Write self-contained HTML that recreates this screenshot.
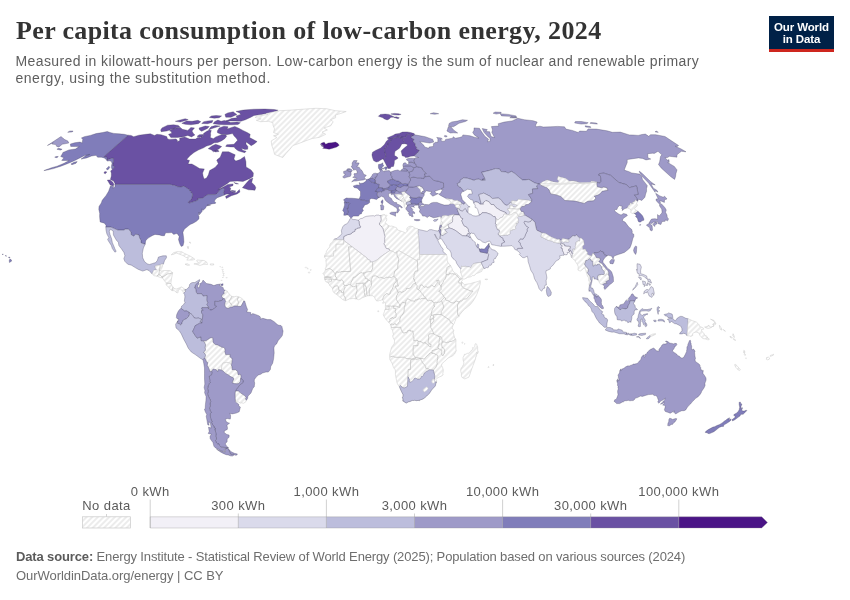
<!DOCTYPE html>
<html lang="en"><head><meta charset="utf-8"><title>Per capita consumption of low-carbon energy, 2024</title>
<style>
html,body{margin:0;padding:0;background:#fff}
body{width:850px;height:600px;overflow:hidden;position:relative;font-family:"Liberation Sans",sans-serif}
#title{position:absolute;left:16px;top:15.2px;margin:0;font-family:"Liberation Serif",serif;font-weight:700;font-size:26px;line-height:32px;color:#333;white-space:nowrap;letter-spacing:0.36px}
#sub{position:absolute;left:15.5px;top:52.7px;margin:0;font-size:14px;line-height:17.5px;color:#5e5e5e;white-space:nowrap;letter-spacing:0.385px}
#logo{position:absolute;left:769px;top:16px;width:65px;height:33px;background:#002147;border-bottom:3px solid #ce261e;color:#fff;font-weight:700;font-size:11.5px;line-height:12px;text-align:center;letter-spacing:-0.12px}
#logo span{display:block;padding-top:5.2px}
#foot{position:absolute;left:16px;top:546.5px;font-size:13px;line-height:19px;color:#6e6e6e;white-space:nowrap;letter-spacing:-0.14px}
#foot i{font-style:normal;letter-spacing:-0.05px}
#foot b{color:#5b5b5b}
svg{position:absolute;left:0;top:0}
.c{stroke:#3c3858;stroke-opacity:.6;stroke-width:.5;stroke-linejoin:round}
.n{fill:url(#h);stroke:#cdcdcd;stroke-width:.55;stroke-linejoin:round}
.b{fill:none;stroke:#b6b6b6;stroke-width:.6;stroke-linejoin:round}
.lg text{font-family:"Liberation Sans",sans-serif;font-size:13px;fill:#5b5b5b;text-anchor:middle;letter-spacing:0.4px}
</style></head><body>
<h1 id="title">Per capita consumption of low-carbon energy, 2024</h1>
<p id="sub">Measured in kilowatt-hours per person. Low-carbon energy is the sum of nuclear and renewable primary<br><span style="letter-spacing:.52px">energy, using the substitution method.</span></p>
<div id="logo"><span>Our World<br>in Data</span></div>
<svg width="850" height="600" viewBox="0 0 850 600">
<defs>
<pattern id="h" patternUnits="userSpaceOnUse" width="4" height="4" patternTransform="rotate(-45 2 2)"><rect width="4" height="4" fill="#fff"/><path d="M-1,2l6,0" stroke="#e4e4e4" stroke-width="1.35"/></pattern>
</defs>
<g id="map">
<path class="c" fill="#6a51a3" d="M128.1,135.2L131.1,135.4L133.7,136.7L138.9,135.2L145.8,134.3L150.4,133.8L154.5,135.4L156.9,134.3L161.0,134.7L166.7,136.5L167.6,138.9L169.7,139.4L176.1,138.9L177.4,140.3L177.2,141.8L179.8,140.5L179.6,138.2L184.7,136.9L189.5,139.1L195.5,139.1L197.8,137.4L200.3,138.0L203.2,135.4L203.5,133.6L206.3,131.5L209.3,130.0L211.3,130.4L210.5,133.2L210.7,134.9L210.3,137.6L213.3,138.7L215.8,136.9L219.5,135.4L221.7,134.7L225.7,134.9L226.7,136.3L224.7,138.7L221.4,140.9L217.8,142.5L214.1,142.7L210.9,144.8L206.6,146.0L203.6,147.8L198.3,150.1L194.0,152.5L189.7,156.0L186.6,159.6L189.5,160.4L188.1,164.0L191.9,164.0L195.4,165.9L199.6,168.6L204.3,168.9L202.6,173.1L203.1,176.1L204.1,178.9L206.5,178.1L208.4,174.8L209.6,170.6L215.0,167.4L218.3,163.7L216.7,160.1L220.2,157.2L222.4,151.8L228.7,151.8L232.3,153.4L235.2,154.8L233.9,159.1L235.8,161.1L240.2,159.6L244.5,156.5L245.9,161.6L246.1,166.9L251.0,169.9L253.4,173.1L253.1,176.6L250.0,178.4L243.0,181.4L237.1,181.1L230.0,181.4L227.1,183.7L221.9,187.0L217.8,189.8L221.5,188.0L227.9,184.4L233.1,183.9L232.9,185.7L229.0,187.0L230.7,188.0L230.2,190.8L232.5,192.1L236.3,192.8L239.4,189.5L239.9,192.1L237.1,193.9L231.4,195.7L226.3,198.5L225.5,196.4L229.8,193.9L226.7,194.1L224.3,195.1L223.9,193.9L223.4,192.8L224.6,189.2L223.8,188.6L222.0,188.4L219.7,190.3L218.7,191.5L216.6,193.9L215.1,194.6L207.9,194.6L204.4,196.7L202.8,198.2L197.7,198.5L198.0,199.0L197.7,200.3L189.3,203.1L188.1,202.4L188.3,201.8L190.0,200.8L190.6,199.8L191.8,198.2L192.7,193.9L190.9,192.6L191.4,191.8L189.6,190.8L189.4,189.8L183.9,186.2L181.1,187.0L177.4,186.7L174.9,185.4L171.8,185.2L171.1,184.4L114.9,184.4L115.0,183.7L113.6,181.1L110.4,179.4L111.3,176.1L111.3,173.1L110.6,171.1L112.3,169.4L114.6,166.9L112.5,165.5L113.5,161.1L113.3,158.2L111.2,158.4L107.0,159.9L106.8,157.2L103.9,156.5ZM113.3,185.9L110.2,184.9L107.3,180.1L110.1,179.9L112.6,181.9L113.9,184.2ZM105.3,173.8L103.9,173.1L104.8,171.6L106.9,171.9ZM242.4,187.7L248.5,189.8L252.5,190.0L254.9,190.3L255.8,187.7L254.8,185.4L251.7,182.4L252.8,178.1L249.6,179.4L246.4,183.1ZM231.4,190.3L235.9,191.0L234.5,192.1L231.7,191.3ZM233.8,182.4L238.5,183.9L236.1,183.9ZM244.8,152.7L241.3,151.8L238.2,150.8L235.7,149.0L234.1,147.1L230.7,146.9L225.7,146.4L226.7,144.8L233.9,144.3L237.6,140.3L236.1,138.0L234.1,136.0L232.5,133.6L226.7,134.7L221.2,134.3L217.5,132.8L217.3,131.0L219.2,127.9L223.9,126.2L228.1,126.8L227.1,128.9L234.8,126.4L238.9,128.3L242.9,130.4L247.2,132.5L250.2,134.3L249.6,137.6L253.8,139.8L257.1,141.6L254.2,143.9L251.2,145.7L249.0,143.9L246.2,142.1L245.9,144.1L247.9,146.6L247.7,149.2L244.9,149.4L241.2,148.3L243.0,150.4L246.1,151.3ZM208.2,148.7L211.2,149.7L213.4,151.8L218.8,149.0L221.7,146.6L219.2,145.5L215.6,144.3L211.9,146.0ZM214.0,150.8L215.1,152.0L219.0,151.5L218.0,150.1ZM168.5,134.3L170.8,137.4L177.6,137.4L183.3,136.7L187.8,135.4L191.5,136.9L194.9,134.9L193.2,133.2L192.0,131.0L194.5,127.9L190.9,127.5L187.8,130.4L182.4,129.3L180.0,127.2L173.8,128.5L169.5,130.8L171.2,131.5L171.8,133.2ZM160.7,130.0L161.1,131.7L166.8,131.0L175.1,128.1L179.7,126.8L178.3,125.4L173.6,124.8L167.6,125.2L162.0,127.9ZM201.6,131.3L207.4,128.5L209.3,126.6L205.2,126.0L199.0,128.1L199.6,130.0ZM208.7,129.8L212.9,128.3L220.2,126.0L215.1,125.6L211.0,126.8ZM197.1,136.3L199.5,137.4L202.8,136.5L202.8,134.5L199.3,134.7ZM181.8,123.3L185.1,124.3L190.9,124.8L198.3,123.7L200.8,121.7L198.0,120.3L192.1,121.3L186.6,120.9ZM201.7,123.5L207.6,123.7L212.1,122.5L212.9,120.5L207.9,120.9L203.8,121.7ZM175.3,121.3L180.3,122.1L188.2,119.7L185.2,118.7ZM213.1,123.7L219.2,124.5L225.3,124.8L231.5,124.8L238.0,124.5L240.4,122.7L237.1,122.1L230.6,122.5L227.4,121.1L224.3,120.5L221.1,121.3L217.9,120.1L214.5,121.7ZM226.1,120.9L230.7,120.9L235.2,120.9L240.9,121.3L245.5,119.7L250.9,117.2L254.0,115.5L260.7,114.6L269.5,112.9L275.1,111.4L278.1,110.2L274.1,109.5L265.0,109.0L253.9,109.2L243.2,110.1L236.0,111.4L239.7,112.9L240.7,114.4L236.2,115.9L237.0,117.8L231.9,118.3ZM224.9,114.4L225.8,117.2L231.0,117.2L236.9,114.6L235.0,113.2L233.2,111.8L227.7,112.9ZM209.3,117.4L214.3,118.2L219.2,117.8L221.6,115.9L216.2,115.5L211.4,115.9Z"/>
<path class="c" fill="#807dba" d="M110.5,185.9L113.6,186.4L113.2,188.7L115.0,186.4L114.9,184.4L171.1,184.4L171.8,185.2L174.9,185.4L177.4,186.7L181.1,187.0L183.9,186.2L189.4,189.8L189.6,190.8L191.4,191.8L190.9,192.6L192.7,193.9L191.8,198.2L190.6,199.8L190.0,200.8L188.3,201.8L188.1,202.4L189.3,203.1L197.7,200.3L198.0,199.0L197.7,198.5L202.8,198.2L204.4,196.7L207.9,194.6L215.1,194.6L216.6,193.9L218.7,191.5L219.7,190.3L222.0,188.4L223.8,188.6L224.6,189.2L223.4,192.8L223.9,193.9L224.3,195.1L220.7,196.4L217.2,197.7L215.1,199.8L214.3,201.6L215.7,202.4L215.4,203.4L212.8,203.7L209.8,204.4L207.0,205.2L210.6,205.1L206.5,206.0L205.4,208.3L202.8,210.4L202.0,208.8L202.1,211.4L199.4,214.8L199.2,212.0L198.4,215.3L199.0,216.4L198.9,219.0L196.4,221.3L193.1,223.2L190.1,224.5L187.3,226.8L184.3,229.2L182.9,232.3L183.6,237.5L183.9,242.0L183.1,245.6L181.2,246.4L179.8,243.8L178.5,239.6L179.2,236.5L177.5,233.9L176.2,233.6L173.8,234.4L171.6,232.6L168.2,232.8L165.6,232.8L164.4,235.7L162.0,235.7L159.3,234.9L155.0,234.4L152.5,235.5L148.1,238.1L145.7,240.7L145.2,244.2L141.2,243.0L140.9,240.2L139.6,238.1L138.9,234.9L135.7,234.3L133.7,236.2L131.2,234.7L131.0,232.1L128.4,229.1L124.7,229.1L124.3,230.1L117.9,230.1L110.8,227.1L105.8,227.1L106.0,225.3L104.4,223.2L100.1,221.9L99.6,216.4L99.7,213.3L98.8,209.4L99.0,206.5L101.3,202.9L102.2,200.3L106.1,195.4L108.6,191.3ZM128.1,135.2L103.9,156.5L106.8,157.2L107.0,159.9L111.2,158.4L113.3,158.2L113.5,161.1L112.5,165.5L114.6,166.9L112.3,169.4L111.6,168.2L111.4,166.2L112.0,163.5L111.5,161.6L109.6,160.8L107.1,161.1L106.3,159.6L104.2,157.9L101.3,157.2L97.6,157.2L96.0,155.3L91.5,156.0L86.7,157.9L81.1,159.1L86.0,155.6L89.7,154.4L84.7,155.6L78.8,158.4L74.3,160.8L67.3,163.7L60.9,166.2L53.5,168.6L47.1,170.1L43.9,170.6L51.7,167.7L57.1,166.2L64.1,163.3L69.2,160.4L66.1,160.6L61.7,160.4L63.9,157.7L60.7,156.5L62.4,153.7L62.9,152.5L68.9,149.9L75.4,149.0L79.2,146.6L75.7,146.6L70.7,146.4L70.3,144.1L74.8,142.7L80.0,142.1L82.3,143.0L82.4,140.9L82.9,139.4L81.4,138.0L84.2,136.7L90.3,135.4L96.1,133.6L102.7,132.5L107.3,131.5L110.0,132.5L113.8,133.4L119.0,133.8L124.2,134.3ZM70.9,164.0L72.0,164.7L76.0,163.3L77.2,161.6L74.0,162.3ZM56.9,149.2L60.5,150.1L62.1,149.2L58.5,148.3ZM54.7,157.2L57.0,157.7L58.3,156.5L56.1,156.5ZM9.3,260.3L9.4,262.5L11.7,261.1L11.2,259.7L9.9,259.1ZM8.4,257.4L9.8,258.1L9.8,257.1ZM5.3,255.7L6.3,256.4L6.1,255.3ZM2.2,254.3L3.0,254.8L3.2,254.0ZM106.2,168.9L107.8,169.9L109.8,167.4L109.0,166.2Z"/>
<path class="c" fill="#bcbddc" d="M105.8,227.1L110.8,227.1L117.9,230.1L124.3,230.1L124.7,229.1L128.4,229.1L131.0,232.1L131.2,234.7L133.7,236.2L135.7,234.3L138.9,234.9L139.6,238.1L140.9,240.2L141.2,243.0L145.2,244.2L143.4,248.0L142.3,253.2L142.7,257.7L144.5,261.6L147.1,263.7L149.3,264.5L152.8,263.4L155.7,262.6L157.3,260.5L158.4,257.1L162.9,255.8L166.3,255.8L166.5,257.7L164.6,260.5L163.4,264.2L162.3,263.7L160.2,265.1L156.0,265.5L154.9,266.9L156.8,269.9L153.8,270.1L152.2,274.0L149.0,270.5L146.8,269.7L142.7,271.1L138.4,269.4L135.2,267.6L131.4,265.2L127.7,264.2L124.8,261.3L123.8,258.7L124.9,255.8L123.9,252.4L121.2,248.5L118.9,245.6L118.3,242.2L116.4,240.2L114.8,237.5L113.4,234.9L113.2,231.0L110.3,229.2L109.3,231.5L110.1,234.7L111.6,238.8L112.4,242.8L113.9,246.2L114.9,248.8L116.2,251.4L114.9,252.2L112.3,248.5L111.3,245.4L109.2,242.2L107.6,239.6L108.8,237.5L106.9,234.1L106.0,230.2Z"/>
<path class="n" d="M255.1,117.4L261.2,118.9L256.3,120.3L260.5,121.7L268.4,121.3L272.8,122.7L273.2,125.8L274.6,128.9L273.5,132.5L278.4,134.3L273.5,135.8L276.9,137.6L271.2,140.9L271.8,145.5L273.5,150.1L274.6,154.4L278.6,156.0L282.8,157.5L285.8,153.7L289.8,149.4L292.9,145.5L297.7,143.9L305.5,140.9L312.1,138.5L319.2,137.4L325.7,134.3L322.0,132.1L327.4,130.0L323.9,127.9L330.7,125.8L333.2,121.7L330.6,119.7L335.6,117.8L335.5,115.0L340.9,113.4L346.2,111.5L335.3,110.7L326.4,108.7L315.7,108.3L301.5,109.3L289.9,110.2L279.8,110.7L273.1,112.0L266.0,113.6L268.0,114.4L256.9,116.3Z"/>
<path class="n" d="M152.2,274.0L153.8,270.1L156.8,269.9L154.9,266.9L156.0,265.5L160.2,265.1L162.3,263.7L162.5,266.3L161.5,268.9L160.1,270.5L161.7,271.0L164.5,270.5L167.9,270.5L170.2,270.7L172.7,272.8L172.2,275.4L171.4,279.3L170.9,283.3L172.1,285.9L174.0,288.5L176.3,289.0L179.1,288.0L181.5,286.9L183.9,288.5L185.0,289.5L185.4,291.4L183.7,293.2L182.6,291.1L180.2,288.7L178.3,290.3L177.9,292.9L176.1,292.4L174.4,290.6L172.1,290.6L170.5,289.5L167.7,286.1L166.0,284.8L166.3,283.0L164.2,280.4L162.6,278.0L160.3,277.5L157.0,276.2L154.1,275.7ZM171.2,254.8L173.5,252.7L177.0,251.7L181.5,251.7L184.7,253.5L187.9,255.0L191.1,256.6L194.9,259.2L193.0,260.0L186.8,260.1L188.2,258.2L185.4,257.1L183.3,255.6L179.0,254.0L176.2,253.0L173.7,254.3ZM193.9,263.9L197.0,264.5L199.9,265.5L203.9,264.2L207.5,264.5L207.0,262.4L204.2,260.5L200.4,260.3L197.5,260.0L196.5,260.8L198.4,262.4L197.1,263.4ZM185.0,264.2L187.8,265.5L189.7,265.0L187.3,263.7ZM210.3,263.9L210.4,265.0L213.6,265.0L213.7,263.9ZM187.2,246.7L188.2,248.8L188.7,246.7ZM189.0,242.2L190.6,243.3L190.3,242.2ZM222.0,269.7L222.7,268.9L223.2,269.7L222.6,270.5ZM222.5,271.8L223.0,271.1L223.4,271.8L222.9,272.4ZM223.0,273.7L223.6,272.9L224.1,273.7L223.5,274.5ZM223.1,275.7L223.5,275.0L223.9,275.7L223.5,276.3ZM222.5,277.5L222.9,277.0L223.2,277.5L222.8,278.0ZM226.2,277.6L226.7,277.1L227.0,277.6L226.6,278.2ZM221.2,280.4L221.6,279.9L221.9,280.4L221.5,280.9ZM221.8,267.3L222.3,266.9L222.7,267.3L222.2,267.8ZM219.8,266.8L220.2,266.4L220.5,266.8L220.1,267.2Z"/>
<path class="c" fill="#807dba" d="M220.8,285.6L222.9,285.6L223.1,283.8L221.4,284.0Z"/>
<path class="n" d="M223.1,298.4L221.6,296.5L222.3,294.5L224.2,293.5L223.8,291.6L225.2,290.3L227.3,291.1L228.3,292.9L229.5,294.2L231.5,296.3L234.2,296.8L236.3,296.3L238.6,296.8L241.1,297.9L243.6,300.0L243.8,301.0L241.0,306.5L238.4,306.3L237.3,306.0L233.8,306.0L232.7,307.0L230.8,307.0L228.0,308.6L225.5,307.3L224.6,304.9L225.1,302.6L225.8,301.5L225.2,300.5L224.3,298.4Z"/>
<path class="n" d="M203.5,340.7L205.1,340.7L206.2,340.7L206.9,340.0L208.7,338.9L210.0,337.9L212.7,337.6L213.1,340.5L213.0,342.3L215.6,344.7L218.2,344.9L219.2,346.0L220.8,346.5L221.8,347.3L223.1,347.3L224.6,348.1L225.2,350.3L224.8,351.4L225.7,354.6L230.3,354.6L229.9,356.2L230.3,357.2L231.7,358.0L232.3,359.5L231.7,364.2L231.1,364.0L228.9,362.6L226.8,362.4L222.8,363.2L221.9,365.6L221.4,370.0L218.5,369.5L217.7,371.6L216.2,369.7L213.2,369.0L211.6,371.3L210.1,371.8L208.8,368.2L207.2,365.3L207.8,362.7L206.3,361.6L205.9,359.8L204.6,358.0L205.7,355.1L203.4,352.0L204.7,351.2L205.5,349.9L205.1,347.5L205.6,344.7Z"/>
<path class="n" d="M221.4,370.0L221.9,365.6L222.8,363.2L226.8,362.4L228.9,362.6L231.1,364.0L231.1,364.8L231.9,366.1L232.2,369.7L235.4,369.7L237.6,371.3L238.1,374.7L240.0,374.2L240.8,374.7L241.0,376.3L240.9,377.8L240.6,378.9L240.4,381.5L238.7,383.6L236.9,383.8L234.4,383.6L232.1,382.8L233.8,378.9L233.3,377.8L230.9,376.8L228.0,374.7L225.6,373.4L223.1,371.0Z"/>
<path class="n" d="M235.5,390.9L238.3,390.9L240.2,392.6L242.6,394.3L244.6,395.6L246.2,397.4L245.5,398.7L246.3,400.3L245.7,401.9L243.5,403.3L241.7,402.8L240.7,403.2L238.5,401.9L237.0,402.0L235.4,400.6L235.2,398.7L235.1,395.6L235.1,393.0Z"/>
<path class="c" fill="#9e9ac8" d="M199.5,281.2L198.1,282.0L199.1,283.5L197.6,285.9L198.4,288.2L199.6,286.4L200.0,283.8L202.2,282.2L203.0,280.1L205.2,282.2L206.5,283.5L211.0,284.3L213.9,285.6L216.5,284.6L220.7,284.0L219.0,285.1L221.0,286.4L223.3,287.7L223.4,289.5L225.2,290.3L223.8,291.6L224.2,293.5L222.3,294.5L221.6,296.5L223.1,298.4L222.4,300.2L218.2,301.5L214.8,301.3L214.9,305.5L216.7,306.3L214.6,308.3L211.9,309.9L210.0,310.0L208.0,306.0L206.6,304.7L207.8,302.9L206.7,300.2L206.9,295.5L203.1,296.1L201.6,293.7L197.2,293.7L196.2,292.1L195.6,288.2L194.5,288.0L195.6,284.6L197.3,283.0Z"/>
<path class="c" fill="#bcbddc" d="M185.0,289.5L186.4,289.5L188.1,287.7L189.0,287.4L189.7,284.3L191.1,283.0L192.7,282.5L194.8,282.5L197.4,280.9L199.6,279.6L199.5,281.2L197.3,283.0L195.6,284.6L194.5,288.0L195.6,288.2L196.2,292.1L197.2,293.7L201.6,293.7L203.1,296.1L206.9,295.5L206.7,300.2L207.8,302.9L206.6,304.7L208.0,306.0L208.6,308.9L208.2,307.6L202.0,307.6L201.7,309.1L203.3,310.2L201.5,310.7L201.5,312.5L202.9,314.9L201.9,323.2L200.7,321.9L200.0,321.7L201.5,319.1L198.3,318.0L196.2,318.3L194.4,318.0L192.0,314.6L189.0,312.4L186.9,311.0L184.4,311.0L181.0,308.3L181.7,306.0L183.3,304.9L185.2,302.1L184.3,301.3L184.9,296.8L184.6,294.5L183.7,293.2L185.4,291.4Z"/>
<path class="c" fill="#9e9ac8" d="M177.8,320.9L178.9,319.1L177.6,319.1L176.4,317.7L176.6,314.9L177.5,312.8L178.4,311.0L179.6,309.4L181.0,308.3L184.4,311.0L186.9,311.0L189.0,312.4L189.5,314.4L188.8,316.2L186.3,318.8L183.6,319.8L182.2,322.2L181.8,323.9L180.5,325.1L179.5,323.6L177.7,323.5L177.5,322.2Z"/>
<path class="c" fill="#bcbddc" d="M175.6,324.3L177.8,320.9L177.5,322.2L177.7,323.5L179.5,323.6L180.5,325.1L181.8,323.9L182.2,322.2L183.6,319.8L186.3,318.8L188.8,316.2L189.5,314.4L189.0,312.4L192.0,314.6L194.4,318.0L196.2,318.3L198.3,318.0L201.5,319.1L200.0,321.7L200.7,321.9L201.9,323.2L199.8,323.1L195.0,325.8L194.4,327.9L193.3,330.0L192.7,331.6L195.2,335.5L197.1,338.1L201.0,336.8L201.2,340.7L203.5,340.7L205.6,344.7L205.1,347.5L205.5,349.9L204.7,351.2L203.4,352.0L205.7,355.1L204.6,358.0L203.0,359.8L200.6,358.5L195.6,354.8L191.3,352.0L188.2,348.1L186.3,343.9L183.7,339.2L181.3,333.9L179.3,330.8L176.0,327.9Z"/>
<path class="c" fill="#9e9ac8" d="M223.1,298.4L224.3,298.4L225.2,300.5L225.8,301.5L225.1,302.6L224.6,304.9L225.5,307.3L228.0,308.6L230.8,307.0L232.7,307.0L233.8,306.0L237.3,306.0L238.4,306.3L241.0,306.5L243.8,301.0L244.7,301.0L246.5,307.0L247.6,309.6L246.7,312.0L250.8,312.5L250.9,315.1L252.7,313.6L255.5,314.4L259.4,316.0L260.6,317.5L260.1,319.1L262.9,318.3L267.3,319.6L270.7,319.6L274.2,321.7L277.3,324.5L278.9,325.3L281.0,325.5L281.9,326.4L282.6,329.5L283.1,331.1L282.3,335.5L281.2,337.1L278.1,340.7L276.6,343.9L274.4,346.0L273.9,348.1L274.2,353.0L273.6,358.8L272.7,363.2L270.7,366.6L270.4,369.5L268.3,372.1L266.0,372.0L262.5,373.0L260.8,374.2L258.4,375.0L256.1,377.1L254.3,379.7L254.3,381.5L254.7,383.1L254.2,387.0L252.8,388.3L251.0,393.0L248.0,396.1L247.5,398.7L246.3,400.3L245.5,398.7L246.2,397.4L244.6,395.6L242.6,394.3L240.2,392.6L238.3,390.9L235.5,390.9L237.8,387.4L239.9,384.9L243.1,382.3L242.9,380.2L241.7,378.8L240.6,378.9L240.9,377.8L241.0,376.3L240.8,374.7L240.0,374.2L238.1,374.7L237.6,371.3L235.4,369.7L232.2,369.7L231.9,366.1L231.1,364.8L231.7,364.2L232.3,359.5L231.7,358.0L230.3,357.2L229.9,356.2L230.3,354.6L225.7,354.6L224.8,351.4L225.2,350.3L224.6,348.1L223.1,347.3L221.8,347.3L220.8,346.5L219.2,346.0L218.2,344.9L215.6,344.7L213.0,342.3L213.1,340.5L212.7,337.6L210.0,337.9L208.7,338.9L206.9,340.0L206.2,340.7L205.1,340.7L203.5,340.7L201.2,340.7L201.0,336.8L197.1,338.1L195.2,335.5L192.7,331.6L193.3,330.0L194.4,327.9L195.0,325.8L199.8,323.1L201.9,323.2L202.9,314.9L201.5,312.5L201.5,310.7L203.3,310.2L201.7,309.1L202.0,307.6L208.2,307.6L208.6,308.9L210.0,310.0L211.9,309.9L214.6,308.3L216.7,306.3L214.9,305.5L214.8,301.3L218.2,301.5L222.4,300.2Z"/>
<path class="c" fill="#9e9ac8" d="M213.2,369.0L216.2,369.7L217.7,371.6L218.5,369.5L221.4,370.0L223.1,371.0L225.6,373.4L228.0,374.7L230.9,376.8L233.3,377.8L233.8,378.9L232.1,382.8L234.4,383.6L236.9,383.8L238.7,383.6L240.4,381.5L240.6,378.9L241.7,378.8L242.9,380.2L243.1,382.3L239.9,384.9L237.8,387.4L235.5,390.9L235.1,393.0L235.1,395.6L235.2,398.7L235.4,400.6L235.4,401.9L238.7,404.2L238.7,406.0L240.4,407.1L239.2,411.8L236.3,413.1L232.2,413.9L229.7,413.3L230.5,414.9L230.6,417.0L230.3,419.1L227.4,418.5L225.3,419.3L226.2,421.6L228.0,422.7L229.6,423.2L228.2,424.0L227.0,425.5L227.5,428.1L227.3,429.4L224.3,430.9L224.3,432.7L226.9,434.5L229.1,435.0L229.1,437.3L227.2,438.8L227.1,441.9L225.7,442.9L225.3,443.9L227.0,446.7L228.8,448.0L227.9,447.9L226.0,447.5L221.1,447.2L219.6,445.6L218.9,443.9L217.5,443.9L216.6,443.1L215.3,440.3L216.5,439.3L216.4,437.6L215.7,436.3L216.0,434.2L215.4,430.9L214.6,429.1L215.6,428.9L215.0,427.8L213.8,427.3L214.1,426.3L212.9,425.3L211.5,422.3L212.1,421.8L210.7,418.5L210.3,415.9L210.3,413.6L211.3,412.7L210.0,410.2L209.4,407.9L210.5,406.0L210.0,404.0L210.7,401.4L210.1,399.0L209.4,398.5L207.5,394.0L208.3,391.2L207.6,388.8L208.0,386.5L209.0,383.8L210.3,382.3L209.5,381.2L209.8,380.4L209.2,376.0L211.6,374.7L211.9,372.1L211.6,371.3ZM228.2,448.7L229.4,449.9L231.2,451.8L234.4,453.3L237.3,453.9L237.0,455.1L235.1,455.2L233.8,454.4L230.7,454.4Z"/>
<path class="c" fill="#9e9ac8" d="M204.6,358.0L205.9,359.8L206.3,361.6L207.8,362.7L207.2,365.3L208.8,368.2L210.1,371.8L211.6,371.3L211.9,372.1L211.6,374.7L209.2,376.0L209.8,380.4L209.5,381.2L210.3,382.3L209.0,383.8L208.0,386.5L207.6,388.8L208.3,391.2L207.5,394.0L209.4,398.5L210.1,399.0L210.7,401.4L210.0,404.0L210.5,406.0L209.4,407.9L210.0,410.2L211.3,412.7L210.3,413.6L210.3,415.9L210.7,418.5L212.1,421.8L211.5,422.3L212.9,425.3L214.1,426.3L213.8,427.3L215.0,427.8L215.6,428.9L214.6,429.1L215.4,430.9L216.0,434.2L215.7,436.3L216.4,437.6L216.5,439.3L215.3,440.3L216.6,443.1L217.5,443.9L218.9,443.9L219.6,445.6L221.1,447.2L226.0,447.5L227.9,447.9L226.7,448.4L224.2,449.4L224.8,451.6L221.7,451.1L218.4,449.2L215.5,447.9L213.9,446.2L213.0,442.6L210.2,438.8L210.0,436.3L211.5,434.2L208.2,433.5L209.2,431.4L208.5,427.1L211.2,428.1L210.3,422.7L208.6,421.9L209.1,425.3L207.7,424.7L207.1,421.1L206.2,416.2L206.8,414.6L205.4,412.0L204.4,409.2L205.2,408.9L205.4,404.7L205.9,400.6L206.1,396.6L204.6,392.7L204.9,390.6L204.1,387.5L204.8,384.1L204.5,379.1L204.5,373.7L204.5,367.9L203.8,363.7L203.0,359.8ZM228.2,448.7L230.7,454.4L233.8,454.4L233.6,455.4L232.3,456.1L230.2,455.8L228.2,454.9L226.2,454.7L223.1,453.4L220.5,452.0L216.5,449.2L222.0,451.4L225.0,452.4L225.4,451.1L225.2,449.4L226.6,448.4Z"/>
<path class="c" fill="#4a1486" d="M320.3,144.3L321.8,143.0L324.2,142.2L325.7,144.3L328.3,143.0L331.8,142.7L335.4,142.1L337.7,143.2L339.2,145.3L336.7,147.1L331.9,148.5L329.1,149.2L326.5,148.7L322.7,148.3L324.2,146.9L320.9,145.7L323.9,145.3Z"/>
<path class="c" fill="#6a51a3" d="M383.6,159.4L384.8,157.7L386.0,156.5L385.3,154.8L386.3,154.1L385.1,153.2L384.6,149.4L385.3,147.8L387.0,146.6L388.0,145.0L388.1,143.0L389.8,142.5L391.1,140.5L390.5,138.9L393.4,138.7L393.5,137.6L396.8,137.8L397.0,136.3L397.5,136.3L399.1,135.8L400.7,137.1L402.9,137.1L405.1,137.4L406.3,136.5L406.3,134.9L409.2,134.1L411.9,135.4L411.5,136.4L414.5,135.2L414.4,134.7L414.2,133.6L410.6,132.5L407.2,131.9L404.7,131.9L402.3,132.1L399.3,133.4L395.3,134.1L393.0,135.4L389.9,136.7L387.2,138.0L388.8,138.9L386.2,141.4L384.8,144.1L383.2,145.7L380.7,148.0L378.2,149.2L375.5,150.4L372.6,152.2L371.9,154.8L372.4,157.2L373.0,159.1L373.6,160.6L376.1,162.0L378.4,161.6L380.7,159.9L382.5,159.1ZM378.4,116.3L383.0,117.8L383.9,118.7L387.1,119.9L389.2,119.1L391.0,117.2L394.7,117.2L392.2,115.9L388.9,114.4L385.2,114.1L380.3,114.4ZM394.1,117.6L398.1,118.7L399.3,117.8L396.1,116.8ZM390.9,113.9L394.0,114.8L398.4,115.0L401.1,114.4L398.7,113.7L394.3,113.4Z"/>
<path class="c" fill="#6a51a3" d="M383.6,159.4L384.8,157.7L386.0,156.5L385.3,154.8L386.3,154.1L385.1,153.2L384.6,149.4L385.3,147.8L387.0,146.6L388.0,145.0L388.1,143.0L389.8,142.5L391.1,140.5L390.5,138.9L393.4,138.7L393.5,137.6L396.8,137.8L397.0,136.3L397.5,136.3L399.2,137.4L401.9,138.2L403.3,138.9L403.4,140.5L404.4,142.1L404.9,143.7L401.8,143.9L400.5,146.4L399.4,148.3L397.0,149.9L395.0,151.3L394.6,153.4L394.5,155.6L397.2,157.0L398.0,158.2L396.8,159.1L394.4,160.6L394.3,163.3L393.5,166.4L391.1,166.7L390.3,168.4L388.0,168.4L387.0,166.4L385.4,163.3L384.1,160.8Z"/>
<path class="c" fill="#6a51a3" d="M397.5,136.3L399.1,135.8L400.7,137.1L402.9,137.1L405.1,137.4L406.3,136.5L406.3,134.9L409.2,134.1L411.9,135.4L411.5,136.4L411.1,137.6L414.1,139.4L413.0,141.2L415.4,143.9L415.1,145.7L416.9,147.3L416.1,148.5L419.4,150.4L417.3,153.0L414.0,155.9L410.7,156.3L408.2,157.2L405.4,157.6L404.9,156.5L402.2,155.8L401.6,153.0L401.1,151.1L402.6,149.4L405.4,147.1L407.4,145.5L407.1,144.3L404.9,143.7L404.4,142.1L403.4,140.5L403.3,138.9L401.9,138.2L399.2,137.4Z"/>
<path class="c" fill="#807dba" d="M378.5,168.2L379.6,169.6L382.1,169.9L381.4,168.4L382.6,166.4L383.8,165.9L382.7,164.0L383.0,162.8L381.0,164.0L378.5,164.5L378.4,166.2ZM384.1,167.7L385.8,170.1L387.2,168.6L387.1,166.9L385.4,166.9ZM381.8,168.2L383.8,169.1L383.5,168.2Z"/>
<path class="c" fill="#9e9ac8" d="M351.6,181.8L354.0,181.1L356.0,181.1L359.0,180.4L363.4,180.0L365.8,179.0L364.0,178.1L366.3,175.3L363.6,174.3L363.2,172.9L362.0,170.6L360.1,168.9L359.2,167.2L356.7,166.9L357.7,165.9L359.2,163.0L356.4,162.8L355.5,163.0L357.2,160.6L353.7,160.6L352.1,163.0L352.3,165.7L351.2,166.2L352.4,168.4L353.6,168.9L353.3,170.1L356.2,169.6L357.2,171.9L356.9,173.6L354.2,173.6L354.0,174.8L354.9,176.1L352.7,177.3L354.7,177.8L357.1,178.4L356.4,178.9L354.5,179.1ZM347.3,170.7L348.8,171.6L350.2,171.7L351.2,171.7L352.3,170.9L351.8,169.8L350.9,168.9L349.5,168.9L348.9,169.4L348.5,170.0Z"/>
<path class="c" fill="#9e9ac8" d="M343.2,177.6L344.2,178.1L346.6,177.3L350.4,176.3L351.2,174.3L350.9,172.1L351.2,171.7L350.2,171.7L348.8,171.6L347.3,170.7L348.5,170.0L348.9,169.4L349.5,168.9L349.0,168.6L347.0,169.1L346.6,170.6L343.6,171.4L343.7,173.4L345.4,174.1L343.5,176.3L342.7,176.8Z"/>
<path class="c" fill="#807dba" d="M359.2,198.9L360.5,195.7L360.5,192.8L360.5,191.5L358.5,189.5L357.3,188.2L354.1,187.5L353.3,185.9L356.9,184.9L359.8,185.3L359.2,182.6L360.6,183.4L363.2,183.1L366.2,181.1L366.2,179.6L368.1,179.2L369.4,180.1L371.4,181.9L372.7,182.4L374.7,183.0L375.9,183.3L379.5,184.5L378.5,188.0L377.3,188.5L375.5,191.0L375.3,191.5L376.9,191.0L377.4,192.3L377.3,194.4L377.5,196.7L379.0,196.9L378.6,197.8L376.6,199.5L373.4,198.7L371.3,198.5L369.5,199.5L369.5,201.2L366.8,201.3L364.5,200.3L362.0,200.3L359.9,199.5ZM381.1,201.3L382.7,199.8L383.0,202.1L382.4,203.9L381.3,203.1Z"/>
<path class="c" fill="#807dba" d="M359.2,198.9L359.9,199.5L362.0,200.3L364.5,200.3L366.8,201.3L369.5,201.2L369.7,202.6L367.4,204.2L364.7,204.9L363.6,207.0L362.4,208.8L363.4,210.8L361.9,212.0L361.5,213.7L359.6,214.3L358.5,216.1L353.5,216.1L351.5,217.7L350.9,218.0L349.4,216.4L349.2,215.6L347.1,214.8L346.9,213.8L348.0,212.2L347.6,210.1L347.0,208.4L348.1,208.3L348.3,206.8L348.6,204.9L349.7,203.4L349.1,202.6L345.9,202.9L345.8,202.1L344.3,202.6L344.5,201.1L343.5,199.8L346.3,198.0L348.4,198.2L351.5,198.2L355.1,198.5Z"/>
<path class="c" fill="#807dba" d="M344.3,202.6L345.8,202.1L345.9,202.9L349.1,202.6L349.7,203.4L348.6,204.9L348.3,206.8L348.1,208.3L347.0,208.4L347.6,210.1L348.0,212.2L346.9,213.8L347.1,214.8L345.7,215.3L343.8,215.3L344.1,212.0L342.7,210.8L343.9,207.5L344.6,204.9Z"/>
<path class="c" fill="#9e9ac8" d="M377.1,173.7L378.8,172.9L379.7,172.1L380.3,171.6L379.6,169.6L382.1,169.9L384.2,171.9L384.3,170.9L387.2,170.7L389.3,170.6L390.6,172.1L391.2,173.8L390.7,174.8L392.0,176.6L391.9,177.3L392.8,179.1L392.5,179.7L391.4,179.4L388.9,180.6L387.4,181.2L388.1,182.9L390.9,185.0L390.3,185.4L389.3,186.2L389.0,187.7L389.5,188.2L387.8,188.0L385.4,188.5L383.8,188.7L382.5,188.1L380.5,187.7L378.5,188.0L379.5,184.5L375.9,183.3L375.2,181.6L375.6,180.9L374.9,179.9L374.7,179.2L375.3,178.1L374.9,177.2L376.4,177.0L376.8,175.8Z"/>
<path class="c" fill="#9e9ac8" d="M377.1,173.7L376.8,175.8L376.4,177.0L374.9,177.2L375.3,178.1L374.7,179.2L374.9,179.9L374.4,179.9L372.9,178.2L371.5,178.5L369.7,178.6L370.7,177.3L371.9,175.8L372.4,174.5L373.7,173.4L375.7,173.2Z"/>
<path class="c" fill="#807dba" d="M368.1,179.2L369.7,178.6L371.5,178.5L372.9,178.2L374.4,179.9L374.9,179.9L375.6,180.9L375.2,181.6L374.7,183.0L372.7,182.4L371.4,181.9L369.4,180.1Z"/>
<path class="c" fill="#9e9ac8" d="M374.7,183.0L375.2,181.6L375.9,183.3Z"/>
<path class="c" fill="#807dba" d="M375.3,191.5L375.5,191.0L377.3,188.5L378.5,188.0L380.5,187.7L382.5,188.1L382.4,189.2L384.3,189.8L384.3,190.8L382.1,191.0L381.5,192.4L380.2,191.3L379.2,192.2L377.4,192.3L376.9,191.0Z"/>
<path class="c" fill="#807dba" d="M382.5,188.1L383.8,188.7L385.4,188.5L387.8,188.0L389.5,188.2L389.0,187.7L389.3,186.2L390.3,185.4L390.9,185.0L392.9,184.9L393.3,184.4L397.2,185.2L397.7,186.7L396.4,187.7L395.9,189.8L392.9,191.0L391.1,190.8L388.4,190.3L387.7,189.5L385.9,189.6L384.3,189.8L382.4,189.2Z"/>
<path class="c" fill="#807dba" d="M387.4,181.2L388.9,180.6L391.4,179.4L392.5,179.7L392.8,179.1L395.3,180.2L396.8,180.9L398.4,181.1L400.3,182.1L400.9,183.1L399.3,184.4L397.5,184.8L397.2,185.2L393.3,184.4L392.9,184.9L390.9,185.0L388.1,182.9Z"/>
<path class="c" fill="#807dba" d="M397.2,185.2L397.5,184.8L399.3,184.4L400.9,183.1L402.9,183.9L405.2,183.4L408.3,184.2L407.8,185.9L407.0,186.1L404.5,185.7L402.7,186.4L401.2,187.0L401.0,187.5L399.2,187.6L397.7,186.7Z"/>
<path class="c" fill="#9e9ac8" d="M395.9,189.8L396.4,187.7L397.7,186.7L399.2,187.6L401.0,187.5L401.2,187.0L402.7,186.4L404.5,185.7L407.0,186.1L407.8,185.9L409.5,187.0L407.8,188.5L406.5,191.0L404.7,191.7L401.7,192.3L399.2,192.3L396.8,190.8Z"/>
<path class="c" fill="#807dba" d="M391.1,190.8L392.9,191.0L395.9,189.8L396.8,190.8L395.2,191.5L394.5,193.3L392.9,193.3L391.3,193.3L391.0,192.3Z"/>
<path class="c" fill="#9e9ac8" d="M391.3,193.3L392.9,193.3L394.5,193.3L395.2,191.5L396.8,190.8L399.2,192.3L401.7,192.3L402.2,194.1L403.1,194.1L402.3,194.9L400.0,194.4L397.9,194.1L396.5,194.6L395.6,194.1L395.5,195.1L396.7,196.7L398.5,198.5L399.8,199.8L401.8,201.2L399.6,200.0L396.4,198.5L394.6,196.7L393.8,194.6L392.5,194.1L391.8,195.1L390.9,193.6Z"/>
<path class="n" d="M395.5,195.1L395.6,194.1L396.5,194.6L397.9,194.1L400.0,194.4L402.3,194.9L403.1,194.9L402.6,196.2L403.8,197.2L403.1,198.5L401.9,199.3L401.8,200.8L399.8,199.8L398.5,198.5L396.7,196.7Z"/>
<path class="n" d="M402.2,194.1L401.7,192.3L404.7,191.7L406.5,191.0L407.4,194.1L409.6,195.4L410.2,196.7L409.6,197.5L411.1,199.3L410.0,201.3L408.4,201.7L406.4,202.6L405.2,200.8L405.5,200.2L403.8,199.3L403.1,198.5L403.8,197.2L402.6,196.2L403.1,194.9L402.3,194.9L403.1,194.1Z"/>
<path class="n" d="M401.8,201.2L401.8,200.8L401.9,199.3L403.1,198.5L403.8,199.3L405.5,200.2L405.2,200.8L404.3,200.8L403.8,202.6Z"/>
<path class="n" d="M403.8,202.6L404.3,200.8L405.2,200.8L406.4,202.6L406.3,204.2L407.5,205.3L407.0,206.8L406.0,208.4L404.2,206.8L404.0,203.9Z"/>
<path class="c" fill="#bcbddc" d="M406.4,202.6L408.4,201.7L410.0,201.3L411.5,203.0L411.4,204.0L409.9,204.6L407.5,205.3L406.3,204.2Z"/>
<path class="c" fill="#9e9ac8" d="M406.0,208.4L407.0,206.8L407.5,205.3L409.9,204.6L411.4,204.0L414.3,203.7L416.5,204.3L418.1,204.0L419.1,203.4L418.7,205.1L416.3,205.2L414.7,205.2L413.5,206.5L414.6,207.2L412.7,206.9L411.6,206.5L411.0,207.3L412.8,209.6L412.2,210.4L414.6,212.2L414.6,213.7L412.8,212.9L412.3,214.0L413.2,216.6L411.7,216.8L410.9,215.3L409.9,215.9L408.4,213.3L409.5,212.0L408.0,211.8L407.3,210.7L406.1,209.4ZM414.1,219.8L415.8,219.5L419.0,219.6L420.2,220.0L418.5,220.7L416.3,220.7L414.1,219.9Z"/>
<path class="c" fill="#807dba" d="M409.6,197.5L410.2,196.7L411.9,197.6L416.1,198.0L419.1,196.9L422.6,197.8L421.6,200.0L421.9,202.4L420.2,202.1L418.1,204.0L416.5,204.3L414.3,203.7L411.4,204.0L411.5,203.0L410.0,201.3L411.1,199.3Z"/>
<path class="c" fill="#9e9ac8" d="M404.7,191.7L406.5,191.0L407.8,188.5L409.5,187.0L412.8,187.1L416.9,186.3L420.4,189.8L421.1,193.3L424.1,193.7L424.3,195.1L422.6,197.8L419.1,196.9L416.1,198.0L411.9,197.6L410.2,196.7L409.6,195.4L407.4,194.1Z"/>
<path class="n" d="M416.9,186.3L419.3,185.8L422.3,187.2L424.5,191.0L422.9,191.0L421.1,193.3L420.4,189.8Z"/>
<path class="c" fill="#9e9ac8" d="M407.8,185.9L408.3,184.2L409.9,180.9L410.5,177.8L413.4,177.1L417.4,177.8L420.4,177.8L423.7,178.6L424.0,176.7L426.5,176.6L429.5,176.0L433.6,180.4L438.0,181.1L443.5,182.9L443.7,187.5L441.0,189.2L438.3,190.1L434.8,191.3L435.8,193.3L438.3,193.6L436.4,194.6L432.7,196.2L430.1,193.6L432.0,191.8L428.3,191.3L426.1,190.7L424.1,193.7L421.1,193.3L422.9,191.0L424.5,191.0L422.3,187.2L419.3,185.8L416.9,186.3L412.8,187.1L409.5,187.0Z"/>
<path class="c" fill="#9e9ac8" d="M409.5,177.8L410.5,177.8L413.4,177.1L417.4,177.8L420.4,177.8L423.7,178.6L424.0,176.7L425.7,176.6L424.3,174.1L426.5,173.6L422.9,170.1L422.1,167.9L416.8,166.6L414.0,167.7L412.4,171.1L408.7,172.0L409.9,175.1L408.7,176.1Z"/>
<path class="c" fill="#9e9ac8" d="M403.4,168.5L403.2,166.7L405.3,165.9L410.4,165.9L414.0,167.7L412.4,171.1L408.7,172.0L407.2,170.9L406.8,169.5L404.0,168.8Z"/>
<path class="c" fill="#9e9ac8" d="M403.2,166.7L402.8,165.0L403.7,163.1L405.5,162.7L407.1,164.5L408.6,164.4L408.7,162.5L411.1,162.0L414.6,163.1L415.5,163.7L416.8,166.6L414.0,167.7L410.4,165.9L405.3,165.9Z"/>
<path class="c" fill="#9e9ac8" d="M408.7,162.5L408.6,161.1L406.8,160.2L406.5,159.1L408.6,158.5L410.9,158.2L414.8,158.4L414.1,160.4L414.6,163.1L411.1,162.0Z"/>
<path class="c" fill="#9e9ac8" d="M390.6,172.1L394.5,170.6L398.3,169.9L399.2,170.9L401.1,170.7L407.2,170.9L408.7,172.0L409.9,175.1L408.7,176.1L409.5,177.8L410.8,180.1L409.9,180.9L408.3,184.2L405.2,183.4L402.9,183.9L400.9,183.1L400.3,182.1L398.4,181.1L396.8,180.9L395.3,180.2L392.8,179.1L391.9,177.3L392.0,176.6L390.7,174.8L391.2,173.8Z"/>
<path class="c" fill="#9e9ac8" d="M401.1,170.7L401.6,169.5L403.4,168.5L404.0,168.8L406.8,169.5L407.2,170.9Z"/>
<path class="c" fill="#9e9ac8" d="M378.6,197.8L379.0,196.9L377.5,196.7L377.3,194.4L377.4,192.3L379.2,192.2L380.2,191.3L381.5,192.4L382.1,191.0L384.3,190.8L384.3,189.8L385.9,189.6L387.7,189.5L388.4,190.3L391.1,190.8L391.0,192.3L391.2,193.1L388.6,193.6L388.5,194.9L388.8,196.7L391.4,198.4L392.3,200.5L394.6,202.5L396.7,202.6L396.6,203.7L400.0,205.2L402.3,207.2L402.0,208.1L399.3,206.2L398.1,208.1L399.6,210.1L398.4,211.7L397.6,212.9L396.6,212.5L397.0,210.9L397.4,209.9L396.4,207.5L394.9,207.0L392.9,205.5L390.3,204.3L388.5,202.9L386.3,201.3L385.0,199.8L384.2,197.5L381.5,196.2L379.9,197.3ZM389.7,213.3L391.5,212.2L396.2,212.1L395.5,214.6L395.6,216.3L393.8,215.3L390.3,213.9ZM380.4,205.2L382.4,204.4L383.8,206.2L383.5,209.6L382.2,209.9L380.9,209.9L380.8,206.8Z"/>
<path class="c" fill="#bcbddc" d="M433.3,220.6L434.9,221.6L437.0,220.6L438.1,218.9L436.0,219.6L434.5,219.5Z"/>
<path class="c" fill="#9e9ac8" d="M414.4,134.7L418.9,135.6L425.2,136.7L432.8,139.4L433.7,142.1L429.7,143.0L423.4,142.1L419.8,141.6L424.0,145.5L424.6,146.9L428.7,148.3L429.2,146.9L433.4,146.4L433.4,143.7L435.5,142.3L437.8,142.3L437.9,138.9L436.7,137.4L441.1,138.0L442.4,139.1L440.4,139.6L442.0,141.2L444.9,141.2L445.6,139.4L452.7,138.2L453.2,136.7L455.3,138.2L459.2,137.6L462.1,136.7L462.9,134.9L470.0,135.8L475.1,137.4L478.9,138.0L474.6,135.2L472.7,132.5L474.0,130.2L474.0,127.9L479.4,128.3L481.8,132.1L485.1,136.5L488.5,139.1L487.6,141.8L490.1,141.2L490.0,138.2L487.7,136.5L484.1,132.5L482.2,128.5L487.3,129.6L485.9,131.5L489.7,131.7L491.0,136.5L494.6,137.6L491.8,132.3L492.5,130.0L491.4,126.6L498.7,126.0L498.2,123.7L504.2,122.1L512.1,120.9L517.9,118.3L524.2,119.7L533.1,120.7L537.2,122.1L535.6,125.2L536.0,126.8L540.0,126.2L543.3,127.0L550.2,126.8L557.6,126.4L564.5,126.8L565.9,129.1L572.3,130.4L578.2,132.5L579.6,131.0L586.4,131.3L588.1,128.9L596.5,129.1L607.0,130.8L612.4,132.3L620.3,132.1L629.3,134.9L632.8,135.0L638.2,135.4L641.9,134.5L645.4,134.1L648.7,136.3L650.6,134.7L655.6,134.7L665.0,136.5L678.6,145.5L677.3,146.4L675.2,146.2L681.2,149.0L686.0,151.8L681.4,151.3L679.1,153.0L677.0,154.8L676.9,157.2L669.6,156.3L667.4,157.5L664.9,157.7L669.6,162.0L667.7,162.5L674.3,166.4L677.0,169.9L675.9,173.8L675.5,176.8L674.6,179.4L670.9,176.8L661.4,168.2L658.5,164.5L659.6,162.0L660.5,156.5L661.8,154.8L658.0,151.3L654.3,153.4L652.7,153.2L647.7,153.7L647.9,157.7L650.8,159.1L646.0,159.9L642.6,158.4L638.4,157.9L632.7,158.7L627.2,159.6L627.2,162.5L625.8,165.9L624.2,170.1L629.6,171.9L631.6,172.9L637.4,173.8L639.5,174.1L641.7,176.3L642.4,179.4L644.4,181.9L647.3,185.7L646.5,188.7L646.6,191.3L645.6,194.1L644.9,197.2L641.8,200.5L638.9,199.3L637.8,200.8L637.6,201.6L637.2,201.3L636.5,200.0L637.5,200.0L636.2,197.2L634.1,194.9L638.1,194.4L637.0,187.7L636.4,185.9L632.8,186.7L629.5,187.7L626.6,184.7L618.7,182.4L610.6,175.3L603.9,173.1L599.4,173.6L598.6,175.1L600.3,175.6L600.8,178.1L601.0,181.4L599.8,183.1L597.0,182.3L593.2,181.6L591.5,181.2L589.5,183.1L585.6,183.9L581.4,183.7L577.3,181.9L573.7,180.9L568.9,181.1L565.8,178.6L558.1,176.6L557.5,179.4L559.1,180.9L558.2,182.5L553.3,181.9L547.2,179.9L542.4,182.1L540.2,183.9L539.8,183.9L538.8,183.9L534.7,182.9L528.9,179.4L525.3,179.9L522.3,179.9L515.0,173.6L511.4,171.4L508.1,173.1L505.6,171.9L501.2,171.6L499.4,168.9L495.6,168.6L489.6,170.4L483.5,171.9L481.6,172.1L485.0,178.6L482.3,179.4L485.5,179.9L481.9,180.5L478.9,179.1L475.8,179.4L474.1,180.4L471.4,179.4L467.0,178.1L463.6,177.8L460.1,180.4L460.2,182.1L457.2,183.7L458.2,186.2L461.0,187.7L463.4,190.8L464.0,191.3L461.7,192.1L460.8,194.6L462.4,199.8L465.1,202.6L464.0,204.4L460.9,202.6L457.3,200.5L454.9,200.8L451.8,199.3L446.5,198.7L441.9,196.2L440.5,195.4L438.6,194.1L440.4,193.6L441.4,191.5L442.9,189.4L441.0,189.2L443.7,187.5L443.5,182.9L438.0,181.1L433.6,180.4L429.5,176.0L426.5,176.6L425.7,176.6L424.3,174.1L426.5,173.6L422.9,170.1L422.1,167.9L416.8,166.6L415.5,163.7L414.6,163.1L414.1,160.4L414.8,158.4L415.6,157.7L418.7,157.5L416.3,156.8L414.0,155.9L417.3,153.0L419.4,150.4L416.1,148.5L416.9,147.3L415.1,145.7L415.4,143.9L413.0,141.2L414.1,139.4L411.1,137.6L411.5,136.4L414.5,135.2ZM61.0,136.5L62.8,138.0L64.7,139.6L67.8,140.9L68.8,143.0L62.2,144.3L59.0,146.9L56.7,146.4L55.7,144.6L52.0,144.1L53.2,142.7L47.4,145.5ZM655.1,131.9L658.3,132.3L656.1,131.0ZM67.7,132.3L72.3,131.9L73.1,131.0L69.9,131.0ZM446.9,131.0L450.3,133.0L453.5,132.8L457.7,133.0L453.6,130.0L451.3,127.2L448.1,127.2L447.6,129.3ZM448.5,126.4L449.1,123.5L451.9,121.9L457.4,121.1L462.4,119.7L467.5,120.3L465.4,121.5L459.0,123.3L455.7,125.4L453.4,126.8ZM444.4,136.5L446.3,137.1L447.2,136.0L444.7,135.4ZM430.2,113.7L434.8,114.3L438.7,113.7L433.7,112.7ZM501.5,115.9L509.3,116.3L516.4,117.2L516.1,115.9L508.3,114.4L500.2,113.7ZM496.3,114.1L500.9,113.2L501.2,112.3L495.1,112.0L493.1,113.2ZM509.8,117.8L514.5,118.0L517.2,117.8L511.5,116.8ZM574.6,122.9L581.1,124.1L586.7,123.7L588.2,122.7L581.5,121.5L575.4,121.5ZM589.9,123.3L597.5,124.1L596.6,123.1L590.9,122.5ZM585.5,127.0L590.8,127.5L590.4,126.6L585.2,125.8ZM639.2,171.1L642.4,173.6L646.9,178.1L651.0,181.9L655.2,184.9L651.0,183.9L653.4,188.2L656.6,190.0L658.0,192.1L655.3,190.8L655.1,192.3L652.2,188.2L648.6,183.1L643.3,177.6L640.1,173.6ZM668.2,160.8L668.7,159.4L669.2,160.6Z"/>
<path class="c" fill="#bcbddc" d="M464.0,191.3L463.4,190.8L461.0,187.7L458.2,186.2L457.2,183.7L460.2,182.1L460.1,180.4L463.6,177.8L467.0,178.1L471.4,179.4L474.1,180.4L475.8,179.4L478.9,179.1L481.9,180.5L485.5,179.9L482.3,179.4L485.0,178.6L481.6,172.1L483.5,171.9L489.6,170.4L495.6,168.6L499.4,168.9L501.2,171.6L505.6,171.9L508.1,173.1L511.4,171.4L515.0,173.6L522.3,179.9L525.3,179.9L528.9,179.4L534.7,182.9L538.8,183.9L536.7,185.9L537.8,188.7L532.4,189.0L532.7,193.3L528.5,194.6L531.7,199.3L531.6,201.8L528.5,200.3L522.0,199.8L518.3,199.3L517.2,201.1L511.9,200.8L510.7,202.4L508.7,203.9L507.2,205.5L504.6,204.4L502.9,202.4L501.1,199.8L498.3,198.0L492.4,198.5L489.8,196.2L483.8,193.1L478.8,194.6L481.3,204.2L480.0,204.2L478.1,202.4L475.5,201.8L473.6,202.9L473.0,200.3L470.2,199.3L467.5,196.4L469.0,194.1L472.4,193.9L471.4,189.8L467.5,189.2L464.0,191.3Z"/>
<path class="c" fill="#dadaeb" d="M478.8,194.6L483.8,193.1L489.8,196.2L492.4,198.5L498.3,198.0L501.1,199.8L502.9,202.4L504.6,204.4L507.2,205.5L508.7,203.9L510.7,202.4L512.2,201.6L511.8,203.7L514.9,204.2L517.6,205.5L515.3,207.0L513.0,207.0L512.2,205.2L509.8,205.5L509.7,207.3L509.0,208.6L507.1,209.4L508.8,210.4L509.8,212.2L509.1,214.8L506.2,214.3L506.0,212.7L500.3,210.4L495.9,207.5L493.9,204.7L490.9,204.4L489.1,201.8L485.8,200.5L484.5,201.8L482.9,202.9L483.6,204.2L481.3,204.2Z"/>
<path class="c" fill="#f2f0f7" d="M473.6,202.9L475.5,201.8L478.1,202.4L480.0,204.2L481.3,204.2L483.6,204.2L482.9,202.9L484.5,201.8L485.8,200.5L489.1,201.8L490.9,204.4L493.9,204.7L495.9,207.5L500.3,210.4L506.0,212.7L506.2,214.3L504.4,214.0L502.6,217.2L500.0,218.2L498.2,219.8L495.8,218.9L495.1,216.6L493.6,216.6L490.5,214.3L486.1,212.7L482.2,212.7L481.0,214.3L479.2,214.8L477.7,209.6L476.6,207.8L475.1,207.5L475.2,205.2Z"/>
<path class="n" d="M531.6,201.8L528.3,204.4L525.6,204.7L524.3,206.5L521.8,206.5L520.1,208.8L521.3,211.4L523.6,211.7L524.3,214.3L520.8,214.0L518.1,216.1L516.6,213.0L514.1,212.5L512.5,213.8L509.9,215.3L509.1,214.8L509.8,212.2L508.8,210.4L507.1,209.4L509.0,208.6L509.7,207.3L509.8,205.5L512.2,205.2L513.0,207.0L515.3,207.0L517.6,205.5L514.9,204.2L511.8,203.7L512.2,201.6L510.7,202.4L511.9,200.8L517.2,201.1L518.3,199.3L522.0,199.8L528.5,200.3Z"/>
<path class="n" d="M539.8,183.9L540.2,183.9L542.4,182.1L547.2,179.9L553.3,181.9L558.2,182.5L559.1,180.9L557.5,179.4L558.1,176.6L565.8,178.6L568.9,181.1L573.7,180.9L577.3,181.9L581.4,183.7L585.6,183.9L589.5,183.1L591.5,181.2L593.2,181.6L597.0,182.3L540.9,185.4L546.7,187.7L549.0,189.8L550.7,193.9L556.5,194.9L561.0,196.7L564.9,200.5L575.0,201.1L584.2,203.4L587.7,201.3L593.7,200.8L596.0,198.0L594.2,196.2L598.0,195.1L600.3,193.6L602.1,191.3L608.0,190.3L606.9,187.7L603.6,187.0L601.6,187.7L597.3,186.7L596.9,184.4L597.0,182.3Z"/>
<path class="c" fill="#9e9ac8" d="M637.2,201.3L636.5,200.0L637.5,200.0L636.2,197.2L634.1,194.9L638.1,194.4L637.0,187.7L636.4,185.9L632.8,186.7L629.5,187.7L626.6,184.7L618.7,182.4L610.6,175.3L603.9,173.1L599.4,173.6L598.6,175.1L600.3,175.6L600.8,178.1L601.0,181.4L599.8,183.1L597.0,182.3L596.9,184.4L597.3,186.7L601.6,187.7L603.6,187.0L606.9,187.7L608.0,190.3L602.1,191.3L600.3,193.6L598.0,195.1L594.2,196.2L596.0,198.0L593.7,200.8L587.7,201.3L584.2,203.4L575.0,201.1L564.9,200.5L561.0,196.7L556.5,194.9L550.7,193.9L549.0,189.8L546.7,187.7L540.9,185.4L539.8,183.9L538.8,183.9L536.7,185.9L537.8,188.7L532.4,189.0L532.7,193.3L528.5,194.6L531.7,199.3L531.6,201.8L528.3,204.4L525.6,204.7L524.3,206.5L521.8,206.5L520.1,208.8L521.3,211.4L523.6,211.7L524.3,214.3L523.9,215.3L527.0,216.4L531.9,219.3L535.1,222.4L535.8,226.8L536.8,230.2L539.1,231.3L542.6,233.1L545.3,233.4L547.8,234.9L550.2,236.6L554.1,238.3L557.5,239.4L559.4,239.2L561.3,240.7L562.6,238.6L567.5,239.4L569.2,239.1L573.0,235.5L575.0,236.1L576.5,235.1L579.7,238.1L581.0,237.9L583.3,240.2L584.2,244.3L582.3,246.4L582.7,249.6L585.1,249.2L586.6,251.7L587.4,252.2L587.0,254.3L590.0,255.7L591.8,256.0L592.6,253.7L593.7,253.3L594.7,252.7L596.5,252.7L598.7,252.3L600.3,251.0L603.7,252.4L603.7,254.0L604.8,255.0L607.2,255.7L608.2,255.3L611.5,256.1L613.1,259.0L614.0,256.1L618.2,254.5L620.8,253.7L624.4,252.4L627.2,250.3L629.8,248.0L631.1,244.9L632.1,241.5L632.8,238.6L633.9,236.2L633.7,234.1L632.1,233.4L632.3,231.3L631.5,229.2L628.8,227.1L625.1,222.1L622.4,220.8L622.8,219.0L624.2,217.7L627.4,215.6L626.5,214.2L623.4,213.5L621.1,215.0L619.0,214.2L616.5,212.5L614.5,210.8L615.0,209.6L617.0,209.5L617.5,207.8L619.3,205.5L622.4,206.5L621.5,208.2L622.9,210.1L621.9,210.4L624.9,208.6L627.5,207.8L628.3,206.0L629.9,204.7L630.3,202.9L631.6,203.7L633.5,203.7L632.5,202.4L635.1,201.3L635.0,199.8L637.2,201.3ZM609.7,261.6L611.4,259.5L614.4,259.7L614.0,261.8L613.0,263.9L610.0,263.4Z"/>
<path class="c" fill="#9e9ac8" d="M633.5,250.3L634.3,247.7L635.6,245.9L636.8,246.7L636.6,249.3L636.4,252.4L635.6,254.5L634.1,252.4Z"/>
<path class="n" d="M627.5,207.8L628.3,206.0L629.9,204.7L630.3,202.9L631.6,203.7L633.5,203.7L632.5,202.4L635.1,201.3L635.0,199.8L637.2,201.3L637.6,201.6L636.5,203.4L637.6,205.2L636.2,207.0L634.5,208.2L635.0,209.6L637.9,211.2L637.1,212.0L635.3,213.3L634.3,213.4L632.5,213.5L630.7,212.5L631.0,210.9L630.5,209.1L628.8,208.6Z"/>
<path class="c" fill="#807dba" d="M634.3,213.4L635.3,213.3L637.1,212.0L637.9,211.2L641.2,214.3L642.6,215.9L643.9,219.0L643.8,220.3L642.0,220.8L640.7,221.9L638.9,222.1L638.0,220.7L637.6,218.7L635.4,216.1L636.9,215.6ZM639.4,225.0L640.7,224.5L640.4,225.3Z"/>
<path class="c" fill="#9e9ac8" d="M648.9,223.2L650.3,220.8L651.6,219.0L655.0,218.7L657.6,219.3L657.5,214.6L659.2,215.9L661.6,213.3L662.1,212.2L661.7,209.1L659.6,206.0L659.5,204.4L661.5,203.9L664.8,207.5L666.3,210.1L665.5,212.2L667.0,215.1L667.2,217.2L668.4,218.7L668.1,220.3L667.3,220.8L665.5,219.8L665.1,221.3L662.0,221.6L661.7,222.4L660.9,224.5L658.3,223.7L657.4,221.6L653.7,222.1L651.9,223.4ZM646.4,225.0L647.8,224.2L649.2,223.4L652.1,225.5L652.5,230.0L651.6,231.0L650.1,230.0L649.7,227.6L647.6,226.3ZM652.8,224.5L655.0,222.1L656.8,222.6L657.2,223.7L655.8,224.5L654.9,225.0L654.7,226.6ZM659.1,203.7L656.2,200.8L656.1,199.0L658.2,198.7L656.4,195.1L655.7,193.3L659.8,195.9L663.2,197.2L664.6,196.2L667.0,199.0L664.5,199.8L664.4,202.4L659.8,200.5L660.6,203.4Z"/>
<path class="c" fill="#dadaeb" d="M516.6,250.1L517.7,248.3L522.6,248.3L520.4,244.9L520.1,242.8L518.4,241.7L520.3,238.8L523.1,239.1L524.8,236.4L525.8,233.8L527.3,231.0L526.9,229.2L528.5,227.6L526.4,226.4L525.2,224.7L523.9,222.4L524.6,221.2L528.1,221.9L530.5,221.5L531.9,219.3L535.1,222.4L535.8,226.8L536.8,230.2L539.1,231.3L542.6,233.1L541.5,234.4L541.1,236.8L543.5,237.8L545.8,239.1L549.0,240.5L552.2,240.9L553.7,242.2L555.4,242.5L558.2,243.0L560.1,243.0L560.2,242.0L559.5,240.3L559.4,239.2L561.3,240.7L561.4,241.2L563.7,242.2L565.1,241.7L566.9,242.0L568.8,241.9L568.6,240.3L567.5,239.4L569.2,239.1L573.0,235.5L575.0,236.1L576.5,235.1L579.7,238.1L580.1,239.1L579.5,239.6L579.9,241.2L578.3,240.8L575.8,242.6L576.2,244.1L575.4,246.3L575.5,247.5L574.8,249.7L572.9,249.0L573.3,251.8L572.9,252.7L573.3,253.7L572.4,254.4L570.5,250.2L569.9,250.3L569.8,251.9L568.3,250.6L568.7,249.0L569.7,248.9L570.4,246.7L569.1,246.3L566.9,246.3L564.7,245.9L564.2,244.2L563.2,244.1L561.2,242.9L560.7,244.7L562.5,246.0L561.3,247.1L561.0,248.0L562.5,248.6L562.4,250.2L563.4,252.2L564.1,254.4L563.9,255.3L562.3,255.3L559.6,255.8L560.1,257.8L559.0,259.4L555.9,261.1L553.8,264.2L552.3,265.9L550.3,267.6L550.4,268.8L549.3,269.4L547.4,270.3L546.2,270.5L545.9,272.4L546.6,275.8L546.9,278.0L546.1,280.5L546.4,285.0L545.2,285.1L544.3,287.1L545.1,288.0L543.0,288.6L542.3,290.4L541.4,291.2L539.1,288.7L537.9,285.1L536.8,282.5L535.9,281.2L534.5,278.7L533.7,275.6L533.2,273.9L530.8,270.2L529.3,265.1L528.2,261.8L527.9,258.7L527.3,256.2L524.1,257.8L522.4,257.4L519.2,254.3L520.2,253.3L519.4,252.3Z"/>
<path class="c" fill="#dadaeb" d="M501.5,246.2L501.6,243.4L504.6,242.1L504.3,240.9L503.1,240.4L502.8,238.2L500.4,237.0L499.2,235.5L497.9,234.0L501.9,235.5L504.0,235.1L505.4,235.3L505.8,234.8L507.4,235.1L510.0,233.9L509.8,231.7L510.7,230.2L512.3,230.2L512.4,229.4L514.0,229.2L514.9,229.4L515.6,228.7L515.1,227.1L515.8,225.5L516.9,224.9L515.8,223.2L517.9,223.2L518.2,222.3L517.8,221.2L518.7,220.2L518.1,218.9L517.3,217.8L518.3,216.6L520.5,216.1L522.8,215.7L523.9,215.3L525.0,215.0L527.0,216.3L531.9,219.3L530.5,221.5L528.1,221.9L524.6,221.2L523.9,222.4L525.2,224.7L526.4,226.4L528.5,227.6L526.9,229.2L527.3,231.0L525.8,233.8L524.8,236.4L523.1,239.1L520.3,238.8L518.4,241.7L520.1,242.8L520.4,244.9L522.6,248.3L517.7,248.3L516.6,250.1L514.8,249.4L513.9,247.6L511.9,245.6L507.9,246.0L504.2,246.2Z"/>
<path class="n" d="M497.9,234.0L499.2,235.5L501.9,235.5L504.0,235.1L505.4,235.3L505.8,234.8L507.4,235.1L510.0,233.9L509.8,231.7L510.7,230.2L512.3,230.2L512.4,229.4L514.0,229.2L514.9,229.4L515.6,228.7L515.1,227.1L515.8,225.5L516.9,224.9L515.8,223.2L517.9,223.2L518.2,222.3L517.8,221.2L518.7,220.2L518.1,218.9L517.3,217.8L518.3,216.6L520.5,216.1L522.8,215.7L523.9,215.3L524.3,214.3L520.8,214.0L518.1,216.1L516.6,213.0L514.1,212.5L512.5,213.8L509.9,215.3L509.1,214.8L506.2,214.3L504.4,214.0L502.6,217.2L500.0,218.2L498.2,219.8L495.8,218.9L495.6,222.1L495.3,224.0L496.4,224.5L495.8,225.8L496.8,227.9L497.3,229.6L499.1,230.0L499.6,231.7Z"/>
<path class="n" d="M541.1,236.8L541.5,234.4L542.6,233.1L545.3,233.4L547.8,234.9L550.2,236.6L554.1,238.3L557.5,239.4L559.4,239.2L559.5,240.3L560.2,242.0L560.1,243.0L558.2,243.0L555.4,242.5L553.7,242.2L552.2,240.9L549.0,240.5L545.8,239.1L543.5,237.8Z"/>
<path class="n" d="M561.3,240.7L562.6,238.6L567.5,239.4L568.6,240.3L568.8,241.9L566.9,242.0L565.1,241.7L563.7,242.2L561.4,241.2Z"/>
<path class="c" fill="#f2f0f7" d="M564.1,254.4L563.4,252.2L562.4,250.2L562.5,248.6L561.0,248.0L561.3,247.1L562.5,246.0L560.7,244.7L561.2,242.9L563.2,244.1L564.2,244.2L564.7,245.9L566.9,246.3L569.1,246.3L570.4,246.7L569.7,248.9L568.7,249.0L568.3,250.6L569.8,251.9L569.9,250.3L570.5,250.2L572.4,254.4L572.5,256.4L571.7,255.8L572.1,257.9L571.3,256.6L571.0,255.3L570.4,254.0L569.2,252.6L567.1,252.4L567.5,253.5L566.9,254.9L565.9,254.4L565.7,254.9L565.0,254.7Z"/>
<path class="c" fill="#bcbddc" d="M546.3,290.6L547.2,286.4L548.8,287.8L550.0,289.7L551.3,292.4L551.0,295.0L550.0,295.8L548.1,296.5L546.9,294.4Z"/>
<path class="n" d="M572.1,257.9L571.7,255.8L572.5,256.4L572.4,254.4L573.3,253.7L572.9,252.7L573.3,251.8L572.9,249.0L574.8,249.7L575.5,247.5L575.4,246.3L576.2,244.1L575.8,242.6L578.3,240.8L579.9,241.2L579.5,239.6L580.1,239.1L579.7,238.1L581.0,237.9L583.3,240.2L584.2,244.3L582.3,246.4L582.7,249.6L585.1,249.2L586.6,251.7L587.4,252.2L587.0,254.3L590.0,255.7L591.8,256.0L589.7,258.7L588.6,259.2L587.4,260.4L585.8,260.5L585.2,263.4L584.4,263.8L585.7,266.2L587.4,268.0L588.6,269.7L588.1,272.0L587.3,272.6L588.1,273.9L589.8,275.8L590.3,278.6L591.4,280.9L590.3,283.4L589.4,286.0L589.0,284.0L589.5,282.1L588.7,280.5L588.6,277.8L587.5,276.3L586.5,273.2L585.6,269.9L584.3,267.7L583.0,269.0L580.6,271.0L579.3,270.7L577.9,270.1L578.3,266.8L577.4,264.5L575.3,261.4L575.4,260.4L574.1,260.1L573.5,259.0Z"/>
<path class="n" d="M589.7,258.7L591.8,256.0L592.6,253.7L593.7,253.3L595.2,255.3L596.6,257.8L599.5,257.8L600.6,260.0L599.4,260.8L598.8,261.7L601.8,263.3L604.0,266.3L605.9,268.6L607.8,270.5L608.7,272.3L608.6,274.9L606.5,274.0L605.5,275.7L603.6,274.6L604.3,273.6L604.1,271.4L601.9,269.0L601.3,266.4L599.3,264.3L597.6,264.2L597.3,265.1L595.9,265.1L595.2,264.7L593.0,266.3L592.7,263.9L592.8,261.2L591.2,261.1L590.9,259.5Z"/>
<path class="n" d="M598.2,280.1L597.3,277.0L598.5,274.9L601.5,274.4L603.6,274.6L605.5,275.7L606.5,274.0L608.6,274.9L609.3,276.6L609.4,279.7L605.7,281.8L606.9,283.4L604.5,283.5L602.6,284.6L600.6,284.2L599.6,282.9Z"/>
<path class="c" fill="#bcbddc" d="M588.6,259.2L589.7,258.7L590.9,259.5L591.2,261.1L592.8,261.2L592.7,263.9L593.0,266.3L595.2,264.7L595.9,265.1L597.3,265.1L597.6,264.2L599.3,264.3L601.3,266.4L601.9,269.0L604.1,271.4L604.3,273.6L603.6,274.6L601.5,274.4L598.5,274.9L597.3,277.0L598.2,280.1L596.0,279.0L594.1,279.0L594.1,277.0L592.2,277.0L592.2,279.9L591.4,283.7L590.8,286.0L591.0,288.0L592.5,288.0L593.7,290.3L594.2,292.5L595.5,294.1L596.9,294.4L598.3,295.8L597.5,296.8L596.0,297.1L595.7,295.8L593.8,294.6L593.5,295.1L592.5,294.1L592.0,292.8L590.7,291.4L589.6,290.1L589.3,291.6L588.8,290.2L588.9,288.6L589.4,286.0L590.3,283.4L591.4,280.9L590.3,278.6L589.8,275.8L588.1,273.9L587.3,272.6L588.1,272.0L588.6,269.7L587.4,268.0L585.7,266.2L584.4,263.8L585.2,263.4L585.8,260.5L587.4,260.4Z"/>
<path class="c" fill="#9e9ac8" d="M593.7,253.3L594.7,252.7L596.5,252.7L598.7,252.3L600.3,251.0L603.7,252.4L603.7,254.0L604.8,255.0L607.2,255.7L604.6,257.9L603.1,260.4L602.9,262.2L605.1,265.0L607.7,268.4L609.9,269.9L611.7,272.0L613.3,277.0L613.5,281.6L611.7,283.3L609.2,285.0L607.5,287.1L604.8,289.5L603.9,287.8L604.5,286.1L602.6,284.6L604.5,283.5L606.9,283.4L605.7,281.8L609.4,279.7L609.3,276.6L608.6,274.9L608.7,272.3L607.8,270.5L605.9,268.6L604.0,266.3L601.8,263.3L598.8,261.7L599.4,260.8L600.6,260.0L599.5,257.8L596.6,257.8L595.2,255.3Z"/>
<path class="c" fill="#9e9ac8" d="M593.5,295.1L593.8,294.6L595.7,295.8L596.0,297.1L597.5,296.8L598.3,295.8L600.2,297.6L601.3,299.3L601.5,301.0L601.3,302.3L601.6,304.7L602.5,305.5L603.5,307.7L603.4,308.6L601.8,308.7L599.6,306.9L596.9,304.8L596.5,303.5L595.2,301.7L594.8,299.6L593.9,298.2L594.0,296.2ZM616.0,306.6L617.7,307.7L619.5,309.4L621.0,309.6L622.3,308.3L625.6,308.9L627.4,308.2L628.6,304.7L629.4,303.8L630.1,300.8L632.8,300.8L634.8,301.2L635.7,298.9L637.7,297.9L634.1,296.3L633.9,295.3L632.7,293.8L631.7,294.0L630.6,295.9L629.0,297.8L628.3,299.1L627.8,300.6L626.2,300.1L625.1,301.8L623.6,303.9L619.9,304.9L619.4,307.2L617.9,307.0Z"/>
<path class="n" d="M626.2,300.1L627.8,300.6L628.3,299.1L627.1,299.2Z"/>
<path class="c" fill="#bcbddc" d="M582.6,297.6L587.7,298.3L589.7,300.9L591.6,302.6L592.9,303.8L595.2,306.5L597.5,306.5L600.9,310.6L602.7,311.7L601.7,313.8L603.8,314.9L604.2,316.7L605.0,318.1L606.6,318.4L607.7,320.0L607.0,323.2L606.7,327.3L604.2,327.3L602.3,325.2L599.5,323.0L598.5,321.4L596.9,319.3L595.8,317.4L594.1,313.7L592.0,311.5L591.3,309.3L590.5,307.3L588.4,305.6L587.2,303.4L585.3,301.9L582.9,299.1ZM605.2,329.9L607.3,327.4L610.1,327.5L612.9,328.7L613.0,329.8L617.5,330.0L618.0,328.9L622.2,330.2L622.9,331.9L626.5,332.4L626.4,334.9L623.9,333.8L619.5,333.7L614.7,332.2L613.1,332.0L612.1,332.2L608.0,331.2ZM616.0,306.6L617.7,307.7L619.5,309.4L621.0,309.6L622.3,308.3L625.6,308.9L627.4,308.2L628.6,304.7L629.4,303.8L630.1,300.8L632.8,300.8L634.8,301.2L633.5,303.5L635.3,306.0L635.0,307.2L637.6,309.6L634.8,309.9L634.2,311.7L634.1,314.1L631.9,315.9L631.8,318.5L630.8,322.5L630.5,321.5L627.8,322.7L626.9,321.1L625.3,321.0L624.2,320.1L621.4,321.1L620.6,319.8L619.1,320.0L617.2,319.7L616.9,316.2L615.8,315.4L614.8,313.2L614.5,311.0L614.6,308.5ZM639.5,311.6L640.0,310.6L642.0,308.6L643.7,309.4L647.1,309.6L650.2,308.9L651.9,308.3L650.2,310.8L648.5,311.3L646.2,310.8L642.3,311.0L640.4,311.3L640.0,313.3L642.1,315.7L643.4,314.5L647.6,313.6L647.4,314.7L646.4,314.5L643.3,317.0L645.4,320.4L644.9,321.3L646.8,324.3L646.8,326.0L645.6,326.8L644.7,325.8L645.8,323.6L643.6,324.7L643.1,323.9L643.3,323.0L641.8,321.4L642.1,318.9L640.5,319.7L640.4,326.5L639.0,326.8L638.0,326.1L638.8,323.6L638.6,321.1L637.6,321.1L636.9,319.3L638.0,317.6L638.3,315.5ZM657.0,309.4L657.4,307.3L658.3,306.4L659.9,308.0L658.5,307.8L658.2,309.6L659.9,311.1L658.6,311.1L658.3,312.7L658.2,314.4L657.7,312.8ZM657.9,320.9L658.6,319.4L661.5,319.3L663.9,320.1L664.7,322.1L662.7,321.0L660.8,320.8L659.6,321.0ZM653.6,320.2L655.9,320.2L656.4,321.0L655.5,321.9L654.0,321.4ZM688.2,318.8L687.1,335.8L685.4,333.7L683.1,333.2L682.5,333.9L679.5,333.9L680.7,331.9L682.1,331.1L681.8,328.3L680.7,326.1L676.5,323.9L674.5,323.6L671.2,321.3L670.4,322.5L669.5,322.7L669.1,321.8L669.1,320.6L667.3,319.3L669.9,318.4L671.6,318.5L671.4,317.7L668.1,317.7L667.2,316.2L665.1,315.8L664.1,314.5L667.3,313.8L668.5,312.9L672.1,314.1L672.5,315.0L673.0,319.2L675.4,320.8L677.4,318.0L680.1,316.4L682.2,316.4L684.1,317.4L685.8,318.3ZM626.4,333.4L628.9,333.2L629.1,334.1L627.4,335.0ZM629.6,333.9L631.4,333.7L631.1,335.3L629.5,335.0ZM631.6,333.9L634.2,333.2L636.7,333.7L636.6,334.9L632.7,335.6L631.5,335.4ZM638.8,334.1L640.6,333.6L645.7,333.2L645.4,334.6L641.9,335.4L638.7,335.0ZM636.4,336.9L639.8,337.2L640.4,338.8L638.6,336.4ZM646.7,339.0L646.5,338.6L646.8,337.9L650.3,335.3L650.5,336.6L648.8,338.5Z"/>
<path class="n" d="M650.3,335.3L652.6,334.1L655.1,333.8L655.9,333.9L654.9,334.7L652.5,335.8L650.5,336.6Z"/>
<path class="n" d="M688.2,318.8L692.2,320.6L696.4,322.1L697.8,323.4L699.1,324.8L699.3,326.2L703.1,327.9L703.6,329.2L701.4,329.5L701.8,331.3L703.7,333.0L705.0,335.8L706.2,335.6L706.0,336.8L707.8,337.3L707.0,337.7L709.3,338.9L709.0,339.7L707.4,339.8L707.0,339.2L702.7,338.5L701.2,336.8L699.9,335.4L699.0,333.0L696.1,332.0L694.1,332.6L692.6,333.6L692.7,335.5L690.9,336.4L689.5,335.9L687.1,335.8ZM704.6,327.0L707.0,326.6L709.0,325.1L709.2,326.5L711.5,327.3L711.9,326.5L713.6,326.4L714.1,324.7L712.5,324.4L714.2,323.2L714.0,324.7L713.1,326.4L712.4,326.6L710.2,327.9L707.8,328.5L706.0,327.8ZM710.5,319.2L714.1,320.5L716.0,323.8L715.2,324.4L714.4,321.9L712.2,320.0ZM719.4,325.2L721.3,328.2L722.1,329.8L721.2,330.0L720.3,329.1L719.5,327.4ZM723.3,329.6L725.5,331.2L725.2,331.3L723.4,330.0ZM730.0,336.2L732.5,337.7L731.6,337.9L730.0,337.1ZM733.1,333.7L734.6,337.1L734.2,337.6L732.7,335.3ZM733.5,338.6L735.8,340.3L734.7,340.2L733.4,339.3Z"/>
<path class="c" fill="#dadaeb" d="M637.1,263.7L640.1,264.3L641.4,267.1L640.6,270.3L640.7,273.7L643.6,274.5L646.6,275.9L647.4,279.2L645.4,277.9L644.3,276.6L641.8,275.6L639.1,275.8L638.9,273.5L637.5,273.3L636.4,269.3L637.4,270.1L637.0,266.0ZM643.6,293.8L644.4,291.0L647.0,289.3L648.7,290.2L651.1,286.5L653.1,287.7L654.3,293.2L653.6,295.5L652.7,292.9L651.6,294.2L652.5,296.2L651.9,297.4L649.1,295.9L648.4,294.0L647.4,291.5L646.8,292.7L645.7,292.5ZM647.7,279.2L650.0,279.2L651.6,283.1L649.8,282.5L649.7,281.6L648.2,282.0ZM642.5,280.9L645.4,281.7L645.5,282.9L644.8,286.0L644.2,286.7L645.1,285.2L643.1,284.7ZM646.2,285.2L647.6,282.6L647.8,285.1L646.9,286.0ZM637.2,282.3L637.8,284.4L635.4,287.7L632.6,290.2L633.5,288.4L635.1,286.7ZM638.4,276.9L641.3,277.8L641.1,280.1L639.9,278.8ZM648.5,283.5L650.0,283.9L650.5,285.0L649.7,285.5Z"/>
<path class="c" fill="#9e9ac8" d="M418.4,207.5L420.0,209.4L419.4,212.0L421.8,214.3L422.6,216.1L425.0,216.1L427.3,217.6L429.1,215.9L433.4,217.7L436.6,217.3L439.8,216.5L441.4,218.3L441.8,217.4L442.2,215.9L445.4,215.6L448.3,216.1L450.8,215.1L454.3,214.7L459.6,215.0L458.2,212.0L457.1,209.1L458.4,208.3L455.7,206.9L455.2,204.7L452.8,203.4L450.7,203.7L448.5,204.9L444.2,205.1L440.9,204.0L437.0,202.4L433.5,202.4L431.2,203.0L428.9,204.7L424.8,204.4L424.1,206.2L420.9,206.5ZM418.2,206.0L418.7,205.1L419.1,203.4L420.2,202.1L421.9,202.4L422.3,203.4L424.4,204.3L423.9,204.8L421.4,204.9L419.1,207.2Z"/>
<path class="n" d="M439.8,216.5L441.4,218.3L441.8,217.4L442.2,215.9L445.4,215.6L448.3,216.1L450.8,215.1L454.3,214.7L453.4,216.4L452.3,217.0L452.8,219.0L452.4,222.1L447.9,224.7L444.0,227.6L441.4,226.6L441.5,225.0L442.6,223.4L442.9,222.6L441.2,221.5L441.0,219.5Z"/>
<path class="n" d="M439.9,225.5L440.6,223.4L441.2,221.5L442.9,222.6L442.6,223.4L441.5,225.0Z"/>
<path class="n" d="M440.7,234.9L441.0,229.7L441.1,227.4L441.4,226.6L444.0,227.6L447.9,224.7L449.2,228.0L444.6,229.7L447.1,232.3L446.1,233.6L444.5,234.0L443.1,235.7Z"/>
<path class="n" d="M441.1,227.4L440.3,227.1L439.9,228.7L440.5,229.1L440.1,230.1L441.0,229.7Z"/>
<path class="c" fill="#9e9ac8" d="M438.6,230.5L439.2,229.6L439.7,226.3L439.9,225.5L441.5,225.0L441.4,226.6L441.1,227.4L440.3,227.1L439.9,228.7L440.5,229.1L440.1,230.1L441.0,229.7L440.7,234.9L440.4,234.9Z"/>
<path class="c" fill="#f2f0f7" d="M454.3,214.7L459.6,215.0L461.4,218.1L463.0,218.7L461.8,220.6L462.7,223.2L464.1,225.8L467.0,227.2L468.4,229.2L468.4,231.1L469.2,232.4L470.6,233.8L469.2,233.8L467.8,233.5L466.4,236.0L462.3,235.7L455.5,230.5L451.9,228.7L449.2,228.0L447.9,224.7L452.4,222.1L452.8,219.0L452.3,217.0L453.4,216.4Z"/>
<path class="c" fill="#dadaeb" d="M466.4,236.0L467.8,233.5L469.2,233.8L470.0,234.9L469.8,235.5L470.7,237.4L469.1,237.4L468.4,236.2Z"/>
<path class="c" fill="#dadaeb" d="M440.4,234.9L443.1,235.7L444.5,234.0L446.1,233.6L447.1,232.3L444.6,229.7L449.2,228.0L451.9,228.7L455.5,230.5L462.3,235.7L466.4,236.0L468.4,236.2L469.1,237.4L470.7,237.4L471.9,239.6L473.0,240.3L473.6,241.2L475.2,242.2L475.4,243.3L475.3,244.2L477.1,247.3L477.9,247.9L478.5,247.7L479.1,248.6L480.2,251.9L487.1,253.2L487.5,252.7L488.7,254.5L487.7,259.7L481.1,262.4L474.6,263.4L472.6,264.6L471.1,267.3L470.1,267.7L469.4,266.8L468.5,266.9L466.4,266.7L465.9,266.4L463.3,266.5L462.7,266.8L461.8,266.0L461.2,267.3L461.5,268.5L460.6,269.3L460.2,268.2L459.3,267.3L458.0,265.4L456.6,263.3L455.9,261.1L454.2,259.4L453.2,258.8L451.5,256.4L451.1,253.0L449.7,250.1L447.3,248.5L446.4,247.1L446.5,246.4L445.1,244.5L442.6,240.5L441.3,238.7L440.2,238.7L440.3,236.4Z"/>
<path class="n" d="M460.6,269.3L461.5,268.5L461.2,267.3L461.8,266.0L462.7,266.8L463.3,266.5L465.9,266.4L466.4,266.7L468.5,266.9L469.4,266.8L470.1,267.7L471.1,267.3L472.6,264.6L474.6,263.4L481.1,262.4L484.0,268.5L482.5,269.2L482.1,270.3L482.0,271.2L479.8,272.3L476.3,273.6L474.4,275.4L473.4,275.6L472.7,275.4L471.4,276.5L469.9,277.0L467.4,277.3L467.0,277.9L466.4,278.2L465.0,278.8L464.2,279.1L462.7,279.0L461.9,277.5L462.0,276.1L461.6,275.3L461.0,273.3L460.3,272.3L460.8,272.2L460.5,271.0Z"/>
<path class="c" fill="#dadaeb" d="M487.5,252.7L488.7,254.5L487.7,259.7L481.1,262.4L484.0,268.5L485.0,268.4L486.6,267.5L487.8,267.7L488.8,266.9L488.7,265.9L489.6,265.2L491.1,265.2L491.5,264.7L491.6,263.5L493.0,262.5L494.0,262.5L494.2,262.2L493.7,260.4L494.0,259.1L494.5,258.4L495.5,258.6L496.1,256.9L497.1,256.0L497.4,255.3L498.0,253.7L497.9,253.1L496.5,252.0L495.3,250.5L493.9,250.0L492.2,249.6L490.9,248.6L489.7,246.9L488.9,246.8L488.6,246.9L488.5,248.6L488.0,249.4L488.0,250.6ZM489.1,244.9L489.7,246.9L488.9,246.8L488.6,243.9L489.1,243.0Z"/>
<path class="c" fill="#807dba" d="M479.1,248.6L479.4,248.5L479.6,249.3L481.3,248.8L483.1,248.9L484.5,249.0L485.9,247.2L487.4,245.5L488.6,243.9L488.9,246.8L488.6,246.9L488.5,248.6L488.0,249.4L488.0,250.6L487.5,252.7L487.1,253.2L480.2,251.9Z"/>
<path class="c" fill="#bcbddc" d="M477.1,247.3L476.8,245.4L477.3,244.1L477.9,243.8L478.7,244.6L478.8,246.2L478.5,247.7L477.9,247.9Z"/>
<path class="c" fill="#dadaeb" d="M458.4,208.3L457.1,209.1L458.2,212.0L459.6,215.0L461.4,218.1L463.0,218.7L461.8,220.6L462.7,223.2L464.1,225.8L467.0,227.2L468.4,229.2L468.4,231.1L469.2,232.4L470.6,233.8L471.3,232.8L472.9,233.6L473.9,233.2L476.1,236.8L477.8,239.2L480.1,239.9L482.6,242.0L485.4,242.8L487.5,241.6L489.2,241.1L490.3,241.6L491.7,244.7L494.2,245.1L496.7,245.6L501.1,246.4L501.5,246.2L501.6,243.4L504.6,242.1L504.3,240.9L503.1,240.4L502.8,238.2L500.4,237.0L499.2,235.5L497.9,234.0L499.6,231.7L499.1,230.0L497.3,229.6L496.8,227.9L495.8,225.8L496.4,224.5L495.3,224.0L495.6,222.1L495.8,218.9L495.1,216.6L493.6,216.6L490.5,214.3L486.1,212.7L482.2,212.7L481.0,214.3L479.2,214.8L479.3,215.5L475.9,216.1L472.8,215.7L471.0,214.3L468.9,213.8L467.9,212.0L467.2,212.1L466.2,209.4L465.3,208.6L464.7,208.8L462.5,210.8L461.8,210.8L460.1,210.1L458.9,209.2Z"/>
<path class="c" fill="#dadaeb" d="M458.4,208.3L458.9,209.2L460.1,210.1L461.8,210.8L462.5,210.8L464.7,208.8L465.3,208.6L466.2,209.4L467.2,212.1L467.9,212.0L468.1,210.0L468.0,207.0L470.1,206.9L468.2,206.1L466.7,204.2L465.1,202.6L464.0,204.4L460.9,202.6L461.1,204.8L458.4,203.9L459.5,205.5L460.7,207.0L460.0,207.8Z"/>
<path class="n" d="M455.7,206.9L458.4,208.3L460.0,207.8L460.7,207.0L459.5,205.5L458.4,203.9L458.0,204.3L455.2,204.7Z"/>
<path class="n" d="M446.5,198.7L451.8,199.3L454.9,200.8L457.3,200.5L460.9,202.6L461.1,204.8L458.4,203.9L458.0,204.3L455.2,204.7L452.8,203.4L450.7,203.7L450.8,202.4L449.9,200.7Z"/>
<path class="c" fill="#dadaeb" d="M418.1,229.4L423.2,230.5L427.1,231.4L429.4,229.8L431.3,229.6L433.5,230.2L434.0,230.4L437.5,231.0L438.6,230.5L440.4,234.9L439.6,237.9L439.2,239.4L438.6,239.8L436.8,237.8L434.8,234.0L434.6,234.3L435.8,237.0L437.4,239.6L439.4,243.7L440.3,245.1L441.1,246.6L443.3,249.4L442.9,250.0L443.0,251.7L445.9,254.0L446.4,254.5L419.5,254.5L418.5,235.6L417.7,233.5L418.2,231.9Z"/>
<path class="n" d="M418.1,229.4L418.2,231.9L417.7,233.5L418.5,235.6L419.5,254.5L419.7,259.7L417.4,259.7L417.4,261.1L399.0,250.7L396.8,251.9L394.9,253.2L393.7,251.8L390.0,250.6L389.0,249.0L386.2,248.3L385.3,246.8L385.2,245.8L383.8,243.8L384.7,242.8L384.6,241.1L384.7,239.6L384.6,238.5L384.9,236.4L384.0,232.8L385.2,231.1L386.5,229.1L388.2,227.5L388.2,225.4L390.8,226.3L391.7,226.0L396.5,227.7L397.6,230.0L402.8,231.7L405.3,233.0L406.2,232.3L407.3,231.0L406.6,229.1L407.3,227.7L408.8,226.6L410.3,226.2L413.3,226.7L414.1,227.9L414.9,227.9L415.6,228.4L417.8,228.7Z"/>
<path class="n" d="M388.2,225.4L388.2,227.5L386.5,229.1L385.2,231.1L384.0,232.8L382.9,228.1L381.6,227.1L381.5,226.4L379.6,224.9L379.4,222.9L380.8,221.5L381.2,219.3L380.7,216.8L381.1,215.5L383.5,214.4L385.0,214.7L385.0,216.1L386.7,215.1L387.0,215.6L385.9,216.9L386.0,218.1L386.8,218.7L386.5,221.0L385.1,222.3L385.6,223.7L386.7,223.8L387.3,225.0Z"/>
<path class="c" fill="#f2f0f7" d="M343.6,240.4L343.7,236.6L347.4,234.7L349.6,234.3L351.4,233.6L352.3,232.3L354.8,231.3L355.0,229.3L356.3,229.2L357.3,228.1L360.1,227.7L360.6,226.7L359.9,226.2L359.2,223.4L359.1,221.7L358.3,220.2L360.4,218.7L362.7,218.2L364.1,217.2L366.1,216.4L369.8,215.9L373.4,215.7L374.4,216.1L376.5,215.1L378.8,215.1L379.7,215.6L381.1,215.5L380.7,216.8L381.2,219.3L380.8,221.5L379.4,222.9L379.6,224.9L381.5,226.4L381.6,227.1L382.9,228.1L384.0,232.8L384.9,236.4L384.6,238.5L384.7,239.6L384.6,241.1L384.7,242.8L383.8,243.8L385.2,245.8L385.3,246.8L386.2,248.3L389.0,249.0L390.0,250.6L382.3,255.7L375.9,260.8L372.6,262.0L370.2,262.2L370.1,260.5L367.6,259.4L367.1,258.2L359.5,252.4L352.0,246.8Z"/>
<path class="c" fill="#dadaeb" d="M358.3,220.2L359.1,221.7L359.2,223.4L359.9,226.2L360.6,226.7L360.1,227.7L357.3,228.1L356.3,229.2L355.0,229.3L354.8,231.3L352.3,232.3L351.4,233.6L349.6,234.3L347.4,234.7L343.7,236.6L343.6,239.8L333.7,239.8L334.9,238.7L336.9,238.5L338.8,236.6L339.9,236.0L341.8,233.8L341.4,230.5L342.2,228.3L342.6,227.0L344.1,225.1L346.3,224.0L347.9,222.9L349.4,220.2L350.1,218.6L351.7,218.6L353.0,219.6L355.1,219.5Z"/>
<path class="n" d="M343.6,239.8L343.6,240.4L343.5,244.3L336.1,244.3L336.0,250.7L333.9,251.1L333.4,252.6L333.7,256.2L324.9,256.2L324.4,257.1L324.6,256.0L324.7,254.8L325.5,254.1L326.3,252.7L326.2,251.9L327.1,250.1L328.3,248.4L329.1,248.0L329.8,246.4L329.8,245.0L330.6,243.4L332.2,242.5L333.7,239.8Z"/>
<path class="n" d="M324.4,257.1L324.9,256.2L333.7,256.2L333.4,252.6L333.9,251.1L336.0,250.7L336.1,244.3L343.5,244.3L343.6,240.4L352.0,246.8L359.5,252.4L367.1,258.2L367.6,259.4L370.1,260.5L370.2,262.2L372.6,262.0L375.9,260.8L382.3,255.7L390.0,250.6L393.7,251.8L394.9,253.2L396.8,251.9L399.0,250.7L417.4,261.1L417.4,259.7L419.7,259.7L419.5,254.5L446.4,254.5L447.2,257.1L447.1,260.3L448.2,263.1L450.3,265.0L451.9,268.1L452.7,270.5L454.4,272.6L457.2,274.1L459.9,277.3L461.8,278.8L462.2,279.6L462.3,280.8L461.2,281.7L462.0,282.1L464.3,284.7L467.5,284.0L470.1,283.8L473.1,282.7L475.3,282.2L478.3,281.4L480.2,280.6L480.3,281.3L480.2,284.2L479.8,285.1L479.2,288.0L476.9,294.2L475.0,298.0L473.1,301.0L470.4,304.6L464.6,309.3L462.6,311.2L460.0,314.4L459.0,316.4L457.4,317.5L455.8,318.7L455.5,320.6L454.8,321.7L454.3,323.4L453.4,324.3L452.3,327.4L452.3,329.0L453.8,329.9L453.8,330.5L453.2,332.1L453.3,332.9L454.8,338.4L455.6,338.9L456.0,340.1L455.8,342.7L455.9,345.0L455.9,349.1L456.3,350.4L455.5,352.2L454.5,354.1L452.9,355.6L450.8,356.7L448.1,358.0L445.5,360.7L444.5,361.2L442.8,363.1L441.9,363.7L441.6,365.6L442.6,367.5L443.0,369.1L443.3,369.7L443.1,372.2L442.7,373.5L443.2,373.9L442.8,375.0L441.8,376.0L439.8,376.8L437.0,378.2L436.0,379.3L436.1,380.3L436.7,380.4L436.5,381.9L435.8,383.7L435.3,385.9L433.0,388.4L432.6,388.8L431.5,390.1L430.7,391.4L429.3,393.4L426.7,396.0L424.9,397.6L423.1,398.9L420.8,399.8L419.6,399.9L419.4,400.7L418.0,400.3L417.0,400.7L414.6,400.3L413.1,400.6L412.3,400.4L410.0,401.5L408.1,401.9L406.7,402.9L405.7,402.9L404.9,402.0L404.1,402.0L403.2,400.7L403.1,401.2L402.9,400.4L403.0,399.0L402.3,397.2L403.1,396.6L403.1,394.7L401.8,392.2L400.8,390.1L399.4,386.7L397.8,384.6L397.0,382.8L396.5,380.2L396.1,378.4L395.4,374.3L395.5,371.2L395.2,369.7L394.3,368.7L393.2,366.5L392.1,363.3L390.7,360.9L389.7,359.2L389.8,357.2L389.6,355.5L389.9,353.3L390.6,350.9L390.9,349.8L391.6,347.4L392.2,346.4L393.5,344.7L394.3,343.5L394.5,341.5L394.5,340.1L393.8,339.0L393.1,337.5L392.7,335.9L392.8,335.4L393.5,334.3L392.8,331.9L392.4,330.2L391.2,328.5L391.3,327.9L391.1,327.2L390.7,325.1L390.4,324.0L388.6,322.3L386.2,319.7L384.7,317.6L383.3,314.9L383.4,314.1L383.9,313.2L384.5,311.3L384.9,309.4L385.6,309.3L385.3,306.0L385.6,304.0L384.7,302.2L383.6,301.8L383.2,300.6L382.6,300.2L382.6,299.6L380.2,300.5L379.4,300.4L378.4,300.9L376.6,300.9L375.3,299.2L374.6,297.4L372.9,295.7L371.2,295.7L369.2,295.7L367.3,295.9L365.4,296.5L361.8,298.0L360.6,298.9L358.5,299.7L356.4,298.9L355.4,298.9L353.8,298.4L352.3,298.5L349.5,298.9L345.7,300.6L345.2,300.6L344.7,300.6L342.3,299.3L340.2,297.4L338.2,295.9L336.6,294.2L336.1,294.1L334.3,293.1L333.2,291.6L332.9,290.7L332.5,288.7L331.5,287.2L330.7,286.1L330.0,285.9L329.5,285.4L329.3,284.2L328.9,283.5L328.2,283.1L327.1,282.1L326.1,282.0L325.6,281.2L325.6,280.8L324.9,280.3L324.7,279.6L324.4,277.6L324.8,276.5L323.8,274.5L322.8,273.5L323.7,273.1L324.9,271.2L325.5,269.8L325.3,268.5L326.0,267.2L326.3,264.7L326.1,262.1L325.8,260.8L326.2,259.5L325.5,258.3ZM476.6,344.5L477.1,345.7L477.6,347.4L477.7,350.5L478.3,351.8L477.9,353.0L477.5,353.8L476.8,352.2L476.3,353.0L476.7,355.0L476.3,356.7L475.7,356.7L475.5,358.9L474.4,361.9L473.0,365.6L471.2,370.5L470.0,374.2L468.8,377.2L464.8,378.9L461.9,377.3L461.4,375.9L461.4,373.5L460.8,371.6L460.7,369.6L461.3,367.8L462.3,367.3L462.4,366.5L463.5,364.4L463.9,362.8L463.5,361.5L463.1,359.9L463.1,357.5L463.9,356.0L464.4,354.3L465.5,354.3L466.8,353.7L467.6,353.3L468.7,353.3L470.1,351.7L472.0,350.1L472.8,348.8L472.5,347.7L473.5,348.1L474.9,346.2L474.9,344.7L475.8,343.5ZM308.4,272.6L309.1,271.8L309.8,272.6L309.1,273.3ZM307.0,268.6L307.6,268.1L308.2,268.6L307.6,269.2ZM305.3,267.5L305.8,266.9L306.4,267.5L305.8,268.0ZM310.3,269.9L310.8,269.4L311.2,269.9L310.7,270.5ZM377.8,311.3L378.2,310.6L378.7,311.3L378.2,312.1ZM462.0,342.6L462.5,341.8L462.9,342.6L462.4,343.4ZM464.3,343.9L464.8,343.5L465.2,343.9L464.8,344.3ZM492.8,365.0L493.5,364.3L493.9,365.0L493.3,365.8ZM487.9,367.1L488.6,366.5L489.2,367.1L488.5,367.8ZM484.9,279.3L486.3,279.0L487.7,279.3L486.3,279.7ZM382.6,302.9L383.1,302.1L383.5,302.9L383.1,303.6Z"/>
<path class="c" fill="#bcbddc" d="M436.5,381.9L434.7,381.9L434.4,379.5L434.8,375.7L433.4,370.1L432.2,369.9L429.5,369.7L426.1,371.7L424.0,373.5L423.3,375.4L422.6,376.3L421.3,376.5L420.8,377.7L420.5,378.6L419.0,379.1L417.3,379.0L416.3,378.4L415.3,378.0L414.1,378.6L413.6,379.9L412.5,380.7L411.3,381.9L409.7,382.1L409.2,381.2L409.5,379.5L408.3,377.1L407.9,376.7L407.5,386.3L407.3,386.3L405.2,387.6L404.0,387.9L402.7,387.4L401.7,387.2L401.3,386.1L400.4,385.4L399.4,386.7L400.8,390.1L401.8,392.2L403.1,394.7L403.1,396.6L402.3,397.2L403.0,399.0L402.9,400.4L403.1,401.2L403.2,400.7L404.1,402.0L404.9,402.0L405.7,402.9L406.7,402.9L408.1,401.9L410.0,401.5L412.3,400.4L413.1,400.6L414.6,400.3L417.0,400.7L418.0,400.3L419.4,400.7L419.6,399.9L420.8,399.8L423.1,398.9L424.9,397.6L426.7,396.0L429.3,393.4L430.7,391.4L431.5,390.1L432.6,388.8L433.0,388.4L435.3,385.9L435.8,383.7Z"/>
<path class="n" d="M427.5,387.6L428.1,388.4L427.3,389.7L426.9,390.5L425.6,391.0L425.1,391.8L424.4,392.1L422.8,390.1L424.2,388.4L425.5,387.4L426.5,386.8Z"/>
<path class="n" d="M434.7,381.9L434.4,379.5L433.3,379.0L432.6,379.3L432.3,380.1L431.7,381.0L431.7,381.9L432.9,383.3L434.1,383.1Z"/>
<path class="c" fill="#9e9ac8" d="M690.1,340.0L690.7,341.1L690.6,342.8L691.1,343.1L691.1,344.3L691.8,347.0L691.5,347.9L692.0,350.0L693.6,349.0L694.2,350.1L695.1,351.1L694.6,352.4L694.8,354.6L694.9,355.9L695.5,358.4L695.0,359.8L695.4,361.5L697.5,362.9L699.0,364.1L700.2,365.3L699.7,365.9L700.7,367.5L700.9,370.4L702.0,369.7L702.6,370.9L703.3,370.5L702.9,373.3L704.8,375.9L706.0,378.0L706.1,380.1L705.6,381.6L704.9,383.2L705.1,385.4L704.1,387.8L701.7,391.3L701.2,392.7L699.9,394.7L697.8,397.0L695.6,398.3L693.8,400.3L692.4,401.6L690.7,403.8L689.2,405.1L687.5,407.1L686.3,408.9L685.9,409.8L684.1,410.7L681.8,410.7L679.3,411.8L677.6,412.8L675.6,414.0L674.6,412.8L673.6,412.3L674.6,411.0L673.2,411.5L670.2,413.3L668.8,412.7L667.8,412.3L666.7,412.0L665.1,411.3L664.4,409.7L665.0,407.7L665.4,405.9L664.7,405.4L662.7,405.0L664.0,403.8L664.4,401.9L662.5,403.7L660.4,404.1L662.2,402.7L663.2,401.2L664.6,399.9L665.3,398.0L662.5,400.2L660.7,401.1L658.9,403.2L657.7,402.1L658.5,400.7L657.9,398.7L657.2,397.8L657.8,397.2L655.7,395.6L654.2,395.5L652.6,394.3L648.5,394.6L645.3,395.5L642.4,396.4L640.4,396.1L637.5,397.6L635.4,398.1L634.5,399.5L633.2,400.6L631.3,400.6L629.9,400.8L628.2,400.3L626.5,400.7L624.9,400.7L623.1,402.1L622.5,402.0L621.1,402.8L619.7,403.6L618.1,403.6L616.6,403.6L615.0,401.9L614.1,401.4L614.7,399.8L615.9,399.5L616.4,398.9L616.8,398.0L617.6,396.1L618.0,394.6L617.6,391.9L617.7,390.5L618.3,388.9L617.9,387.2L618.1,386.5L617.5,385.4L617.6,383.5L616.9,381.4L616.9,380.2L617.6,381.4L617.4,378.9L618.3,379.7L618.8,380.7L619.0,379.4L618.3,377.3L618.4,376.5L618.0,375.7L618.5,374.2L619.1,373.5L619.7,372.2L619.7,370.8L621.0,368.8L620.8,370.8L622.0,369.1L624.0,368.2L625.4,367.0L627.2,366.1L628.3,365.8L628.9,366.2L630.9,365.2L632.3,364.9L632.7,364.4L633.3,364.1L634.6,364.1L637.1,363.5L638.5,362.3L639.4,360.9L640.9,359.5L641.5,357.1L643.5,354.8L644.1,357.1L645.1,356.5L644.5,355.4L645.4,354.1L646.3,354.7L647.0,352.6L648.5,351.3L649.0,350.4L650.3,349.9L650.5,349.2L651.5,349.5L651.6,348.8L652.6,348.4L653.7,348.1L655.3,349.4L656.3,350.8L657.7,350.9L659.1,351.2L658.9,349.6L660.3,347.5L661.4,346.9L661.2,346.2L662.3,344.8L663.8,343.9L665.0,344.1L666.9,343.6L667.0,342.3L665.4,341.4L666.7,341.1L668.1,341.8L669.3,342.8L671.2,343.5L671.9,343.2L673.1,344.0L674.6,343.4L675.4,343.5L676.0,343.0L676.9,344.3L676.1,345.7L675.1,346.7L674.3,346.7L674.5,347.8L673.6,349.2L672.6,350.4L672.6,351.2L674.2,352.6L675.7,353.4L676.8,354.3L678.1,355.9L678.8,355.9L679.8,356.5L680.0,357.3L682.0,358.2L683.8,357.3L684.4,356.0L685.1,354.8L685.7,353.4L686.7,351.3L686.6,350.0L687.0,349.2L686.8,347.8L687.5,345.8L688.0,345.3L687.8,344.4L688.5,343.1L689.0,341.7L689.2,340.9ZM669.6,418.3L671.0,418.5L672.4,419.4L673.8,419.1L675.8,418.5L676.9,418.8L675.1,421.8L673.8,422.7L672.1,424.7L671.9,424.1L669.2,425.9L668.8,425.8L667.7,425.6L667.9,423.5L668.7,421.8L668.9,419.4Z"/>
<path class="c" fill="#807dba" d="M739.6,402.0L740.3,402.0L740.6,403.4L741.9,404.1L741.0,406.4L740.9,409.2L742.0,407.5L742.6,408.1L741.6,410.1L742.8,411.0L744.2,411.1L746.0,410.2L746.9,410.5L744.7,412.8L743.1,414.3L741.5,414.3L740.4,415.0L739.8,416.2L739.1,416.6L734.8,419.8L732.4,420.9L732.5,420.2L731.9,419.8L734.9,417.6L735.2,416.2L733.6,415.2L734.3,414.3L736.4,413.3L738.2,411.4L739.2,409.7L739.5,407.9L739.7,407.5L739.5,406.3L739.1,404.1L739.3,402.3ZM729.6,417.8L729.3,418.8L728.9,420.0L731.1,418.9L731.0,420.0L730.2,421.0L728.4,422.3L725.5,424.1L723.7,425.1L723.5,426.4L721.8,426.4L719.2,427.4L717.3,429.1L713.9,431.7L711.4,432.8L709.8,433.6L707.9,433.5L707.2,432.7L705.3,432.5L705.6,431.6L708.3,429.6L713.0,427.1L714.6,426.7L716.9,425.6L719.7,424.4L722.2,422.9L724.5,421.0L725.8,420.3L727.2,418.9Z"/>
<path class="n" d="M734.7,364.5L735.7,364.5L737.5,366.3L740.4,369.9L739.4,370.5L738.3,369.9L736.9,368.7L735.8,367.3L734.8,365.4ZM743.8,350.3L744.8,351.1L744.7,353.1L743.7,352.9ZM744.5,353.5L745.7,355.0L744.8,355.4L744.3,354.5ZM745.8,357.8L746.4,358.0L746.1,358.6L745.7,358.4ZM766.6,357.5L768.6,357.2L769.7,358.1L769.1,359.4L767.5,359.8L766.4,359.4ZM770.3,355.5L772.3,354.8L773.6,354.2L773.3,355.2L771.7,355.9L770.2,356.4Z"/>
<path class="b" d="M160.2,265.1L159.5,270.5L160.1,270.5M159.5,270.5L158.8,274.4L156.8,276.1M158.8,274.4L160.5,275.4L162.0,277.0L162.6,278.0M162.0,277.0L164.4,275.9L167.6,273.9L169.9,273.6L172.7,272.8M166.3,283.0L168.6,283.3L170.9,283.5M172.1,290.6L172.4,288.2L173.2,286.9M185.0,289.5L185.4,291.4"/>
<path class="b" d="M231.5,296.3L230.9,298.9L229.5,300.0L229.3,301.5L230.2,303.4L230.9,303.4L232.7,307.0M238.6,296.8L237.4,299.2L238.5,302.6L237.3,306.0"/>
<path class="b" d="M520.1,208.8L516.6,209.1L513.5,208.6L511.0,208.8L509.0,208.6"/>
<path class="b" d="M352.0,246.8L348.5,246.8L350.5,269.4L350.9,269.7L350.4,271.5L341.2,271.5L340.8,272.2L339.9,271.9L338.7,272.4L337.1,271.8L336.4,271.8L335.9,273.3L335.2,273.9M325.5,269.8L328.5,268.6L329.7,268.6L332.3,270.1L333.7,272.0L335.2,273.9L335.3,275.4L335.6,277.0L336.6,277.6L336.8,279.6M336.8,279.6L335.0,279.5L334.3,279.7L332.8,279.1L331.6,279.1L327.4,279.0L324.7,279.6M324.5,277.0L327.5,276.5L330.3,277.3L331.4,277.0L328.2,277.5L324.5,277.8M331.6,279.1L331.6,281.2L330.7,281.6L329.3,282.0L328.2,283.1M336.8,279.6L338.0,280.1L340.3,280.5L341.7,279.7L342.6,280.4L343.7,282.2L343.3,283.8L344.5,285.4L343.9,286.4L345.0,287.6L343.9,290.3L343.6,291.9M332.5,288.7L333.8,287.6L334.4,286.3L337.5,285.7L338.1,286.7L338.6,287.8L338.8,290.2L339.4,290.1L338.8,291.8L337.3,292.7L336.6,294.2M339.4,290.1L341.5,291.2L341.4,292.3L341.8,292.9L342.4,292.9L343.0,291.9L343.6,291.9L343.9,295.8L345.6,298.2L345.7,300.6M344.5,285.4L345.5,285.5L347.3,285.5L348.1,284.8L348.8,284.6L350.6,284.8L352.0,286.4L353.0,286.9L355.6,286.1L356.5,286.8L357.1,290.6L355.5,295.7L356.4,298.9M356.5,286.8L356.2,284.8L356.2,283.4L360.2,283.3L361.3,283.4L362.0,283.0L363.1,283.0L363.0,283.5L363.8,285.4L363.8,287.3L364.0,289.3L364.6,290.3L364.2,292.7L365.0,295.5L365.4,296.5M365.1,283.3L364.8,284.7L366.3,287.6L366.8,294.1L367.3,295.9M371.3,281.6L371.1,282.3L371.7,283.9L371.3,285.0L371.5,285.7L370.4,287.3L369.7,288.1L369.2,289.8L369.3,291.5L369.2,295.7M350.6,284.8L351.1,282.2L352.8,279.2L353.2,277.4L355.0,277.1L355.9,276.6L356.2,275.9L358.0,274.8L358.4,274.0L360.6,272.9L361.9,272.6L362.4,273.1L363.8,272.9L365.4,272.9L366.2,272.0L371.3,271.4L372.7,268.0L372.6,262.0M363.8,272.9L364.0,275.6L365.3,277.1L365.3,278.4L368.0,279.1L367.9,280.8L367.5,281.6L366.3,281.8L365.9,283.0L365.1,283.3L363.1,283.0M367.9,280.8L368.7,280.0L371.3,281.6L371.4,279.2L372.0,278.2L372.4,276.6L373.0,276.1L375.5,275.8L377.8,276.7L378.6,277.8L379.8,277.8L380.9,277.1L383.6,278.4L384.8,278.4L386.1,277.3L387.5,277.4L389.3,277.1L391.2,277.9L393.0,276.5L394.0,276.2L394.0,274.5L394.8,271.0L397.8,268.5L397.8,265.1L398.6,259.9L399.0,258.7L398.1,257.9L398.1,257.0L397.2,256.4L396.8,251.9M394.0,276.2L395.3,277.9L396.2,278.4L395.5,279.3L396.4,280.9L396.0,281.8L394.1,283.8L393.5,285.5L393.2,286.8L392.8,287.4L392.3,289.3L391.1,290.3L390.7,291.6L390.3,292.7L390.1,293.8L388.4,294.6L387.2,293.6L386.3,293.6L384.9,295.1L384.3,295.1L383.2,297.6L382.6,299.6M396.2,278.4L397.2,280.1L397.3,281.8L397.2,283.3L398.5,286.0L397.2,286.0L396.5,286.1L395.5,285.9L395.1,287.1L396.5,288.6L398.2,292.7L397.1,295.3L396.5,295.7L396.3,297.8L396.5,298.8L396.4,299.6L397.7,301.9L398.5,303.2L399.6,304.2L399.9,306.1M385.6,305.9L389.1,306.1L390.1,305.9L391.5,306.3L392.9,306.0L393.2,306.0L396.1,306.1L398.0,306.9L399.8,307.4L399.9,306.1M385.3,309.3L389.1,309.3L389.1,306.1M393.7,306.0L393.7,308.6L395.3,308.3L396.0,308.9L395.0,311.9L396.0,313.4L396.2,315.5L396.0,317.2L393.2,318.4L392.1,317.1L391.8,318.3L390.2,318.5L389.5,319.2L390.3,321.0L388.6,322.3M405.8,302.9L404.8,305.9L404.3,307.4L404.1,311.2L403.7,313.0L401.9,315.3L400.8,316.6L399.8,319.1L399.9,321.3L399.3,322.1L397.9,323.4L396.6,324.9L395.7,324.5L395.6,323.8L394.3,323.8L393.5,324.8L392.8,324.5L392.0,323.6L391.4,324.0L390.4,325.2M391.1,327.2L392.3,327.5L392.9,327.5L393.9,327.3L400.7,327.3L401.1,329.2L401.8,330.8L402.4,331.7L403.1,333.0L404.8,332.8L405.5,332.5L406.7,332.8L407.1,332.2L407.7,330.7L409.2,330.5L409.3,330.2L410.4,330.2L410.2,331.1L413.1,331.1L413.0,332.6L413.5,333.7L413.1,335.3L413.2,336.8L414.0,337.9L413.8,341.0L414.4,340.6L415.4,340.7L416.8,340.3L417.9,340.6L418.1,341.4L417.8,342.6L418.2,344.1L417.9,344.8L418.0,345.7L413.3,345.7L413.0,354.1L414.4,356.2L415.8,357.7M389.8,357.2L390.8,356.7L392.2,356.3L393.6,356.3L395.0,357.5L395.3,357.3L404.6,357.2L406.1,358.5L411.7,358.9L415.8,357.7L418.1,357.7L420.5,358.4M407.9,376.7L408.2,369.5L410.4,369.5L410.7,359.8L412.2,359.5L415.8,358.9L416.6,359.8L418.0,358.8L418.7,358.8L420.1,358.1L420.5,358.4L421.3,360.5L421.7,360.9L422.3,362.4L424.8,365.3L425.7,366.5L425.7,368.2L427.0,368.6L428.1,368.6L429.5,369.7M420.5,358.4L423.1,358.6L423.7,359.0L424.5,358.9L425.8,357.2L427.9,355.0L428.7,354.8L429.0,353.9L430.3,352.9L432.1,352.5L432.3,353.5L434.1,353.4L435.2,353.9L435.6,354.6L436.8,354.8L437.9,355.6L437.7,358.9L437.2,360.7L437.0,362.7L437.3,363.5L437.0,365.0L436.6,365.3L436.0,367.1L433.4,370.1M432.1,352.5L432.0,350.7L439.0,348.6L437.8,347.8L438.7,344.5L439.3,344.5L438.9,342.3L439.4,340.2L439.9,339.4L439.4,337.3L438.3,336.2M439.0,348.6L440.3,349.8L440.9,349.5L441.8,350.1L441.8,351.2L441.3,352.5L441.5,354.3L442.9,355.9L443.6,354.1L444.6,353.5L444.6,350.1L443.7,348.3L442.9,347.4L442.1,347.5L441.6,344.1L442.3,342.0L441.8,338.5L441.0,337.3L440.6,336.6L438.3,336.2M442.3,342.0L444.0,341.9L446.7,342.6L447.3,342.3L448.9,342.2L449.9,341.4L451.2,341.5L453.7,340.5L455.6,338.9M418.1,341.4L418.8,341.4L419.9,341.4L421.3,341.7L422.1,342.8L423.9,343.1L425.3,342.3L425.8,343.7L427.5,344.0L428.3,345.2L429.3,346.6L431.0,346.6L430.9,343.9L430.3,344.3L428.7,343.2L428.0,342.8L428.4,340.2L428.8,337.1L428.4,335.9L429.1,334.2L429.7,333.9L432.8,333.6L433.7,333.8L434.6,334.5L435.5,334.9L437.0,335.4L438.3,336.2M433.7,333.8L432.5,330.5L430.7,327.5L430.7,323.8L430.5,320.6L429.9,319.4L430.1,318.0L430.6,316.2L431.3,315.5L431.3,313.6L432.0,310.4L432.5,309.3L433.3,307.8L434.9,306.3L433.9,305.9L434.1,302.9M430.7,323.8L431.6,323.6L432.4,322.7L433.3,321.3L433.9,320.8L433.9,320.0L433.2,318.3L434.0,318.0L433.1,315.0L434.0,314.6L441.2,314.5L449.9,320.1L450.0,321.7L453.4,324.3M429.9,319.4L431.3,319.3L433.2,318.3M431.3,315.5L433.1,315.0M441.2,314.5L441.2,311.7L441.9,310.7L443.0,308.9L443.9,307.0L442.8,304.0L442.4,302.7L441.4,300.9M434.1,302.9L435.1,302.1L436.6,302.7L438.4,302.1L440.0,302.1L441.4,300.9L442.7,299.3L444.3,297.6L445.5,298.0L445.5,299.5L446.3,300.4L447.9,300.4L450.9,302.6L451.7,302.6L452.1,302.6L452.7,302.9L454.2,303.1L454.9,301.9L456.9,300.9L457.9,301.8L459.5,301.8L457.5,304.7L457.6,314.2L459.0,316.4M459.5,301.8L460.2,300.9L461.6,300.9L463.6,299.1L466.6,298.9L473.0,291.1L471.0,291.1L463.5,288.0L462.5,287.1L461.7,285.9L461.2,283.4L460.6,283.0L460.1,283.1L458.8,283.1L458.8,282.3L458.5,281.6L459.3,280.4L460.0,279.2L461.8,278.8M461.2,283.4L462.0,282.1M460.0,279.2L459.2,278.4L458.2,276.9L457.2,276.1L456.6,275.2L454.6,274.1L453.0,274.0L452.4,273.5L451.0,274.1L449.6,272.9L449.0,274.9L446.3,274.4L446.0,273.3L446.8,269.4L447.0,267.7L447.6,266.9L449.3,266.4L450.3,265.0M446.3,274.4L446.0,276.6L445.1,279.1L443.8,280.4L443.0,282.5L442.8,283.5L441.6,284.2L441.0,286.9L441.2,289.3L440.7,290.1L439.6,290.2L438.8,291.6L440.2,291.9L441.4,293.1L441.9,294.1L442.9,294.8L444.3,297.6M441.0,286.9L440.8,286.0L439.2,284.0L438.9,280.1L438.1,280.0L437.9,280.6L436.5,280.6L437.1,281.4L437.4,283.0L436.1,284.4L435.0,286.4L433.9,286.7L431.8,285.1L431.0,285.6L429.6,286.9L427.2,287.4L427.0,286.9L425.3,286.8L424.5,287.3L423.9,287.1L422.6,285.5L422.2,284.8L420.5,285.2L420.0,286.4L419.4,288.7L418.2,289.3L418.0,289.5M417.4,261.1L417.8,271.0L415.5,271.0L414.5,272.9L414.0,274.5L414.5,275.2L413.8,275.9L414.1,277.1L413.3,279.1L414.1,279.0L414.6,280.0L414.6,281.4L415.5,282.2L415.4,282.9L415.7,284.0L417.1,285.6L417.1,286.7L416.8,287.8L416.9,288.6L418.0,289.5M415.4,282.9L412.8,284.4L411.3,287.2L409.1,288.5L406.9,288.4L406.2,288.6L406.5,289.4L405.3,290.3L404.3,291.4L401.4,292.4L400.9,291.8L400.5,291.8L398.6,291.9L398.2,292.7M418.0,289.5L419.5,290.4L420.8,291.6L420.8,292.4L422.4,293.8L423.3,294.9L423.9,296.5L425.7,297.5L426.1,298.3L426.3,298.8L425.3,298.7L423.8,298.5L422.1,298.3L421.3,298.5L420.8,299.1L420.2,299.2L419.2,298.7L416.7,300.0L415.7,299.7L415.3,299.9L414.6,301.4L412.9,300.9L411.3,300.8L409.8,299.7L407.8,298.8L406.7,299.7L405.8,301.0L405.8,302.9L404.0,302.7L402.5,302.2L401.2,303.6L399.9,306.1M426.3,298.8L427.5,300.5L428.6,300.8L429.2,300.4L430.2,300.5L431.5,300.0L432.0,301.2L434.1,302.9"/>
</g>
<g class="lg">
<rect x="82.6" y="516.8" width="47.8" height="11.2" fill="url(#h)" stroke="#c9c9c9" stroke-width=".7"/>
<line x1="106.5" y1="514" x2="106.5" y2="516.8" stroke="#c9c9c9" stroke-width=".8"/>
<text x="106.5" y="510">No data</text>
<rect x="150.2" y="516.8" width="88.1" height="11.2" fill="#f2f0f7"/>
<rect x="238.3" y="516.8" width="88.1" height="11.2" fill="#dadaeb"/>
<rect x="326.4" y="516.8" width="88.1" height="11.2" fill="#bcbddc"/>
<rect x="414.5" y="516.8" width="88.1" height="11.2" fill="#9e9ac8"/>
<rect x="502.6" y="516.8" width="88.1" height="11.2" fill="#807dba"/>
<rect x="590.7" y="516.8" width="88.1" height="11.2" fill="#6a51a3"/>
<path d="M678.8,516.8H761.7L767.5,522.4L761.7,528H678.8Z" fill="#4a1486"/>
<path d="M150.2,516.8H761.7L767.5,522.4L761.7,528H150.2Z" fill="none" stroke="#8c8c8c" stroke-opacity=".45" stroke-width=".7"/>
<g stroke="#999" stroke-opacity=".5" stroke-width=".9">
<line x1="150.2" y1="499.5" x2="150.2" y2="528"/><line x1="238.3" y1="513.5" x2="238.3" y2="528"/>
<line x1="326.4" y1="499.5" x2="326.4" y2="528"/><line x1="414.5" y1="513.5" x2="414.5" y2="528"/>
<line x1="502.6" y1="499.5" x2="502.6" y2="528"/><line x1="590.7" y1="513.5" x2="590.7" y2="528"/>
<line x1="678.8" y1="499.5" x2="678.8" y2="528"/>
</g>
<text x="150.2" y="495.5">0 kWh</text><text x="238.3" y="510">300 kWh</text>
<text x="326.4" y="495.5">1,000 kWh</text><text x="414.5" y="510">3,000 kWh</text>
<text x="502.6" y="495.5">10,000 kWh</text><text x="590.7" y="510">30,000 kWh</text>
<text x="678.8" y="495.5">100,000 kWh</text>
</g>
</svg>
<div id="foot"><b>Data source:</b> Energy Institute - Statistical Review of World Energy (2025); Population based on various sources (2024)<br><i>OurWorldinData.org/energy | CC BY</i></div>
</body></html>
